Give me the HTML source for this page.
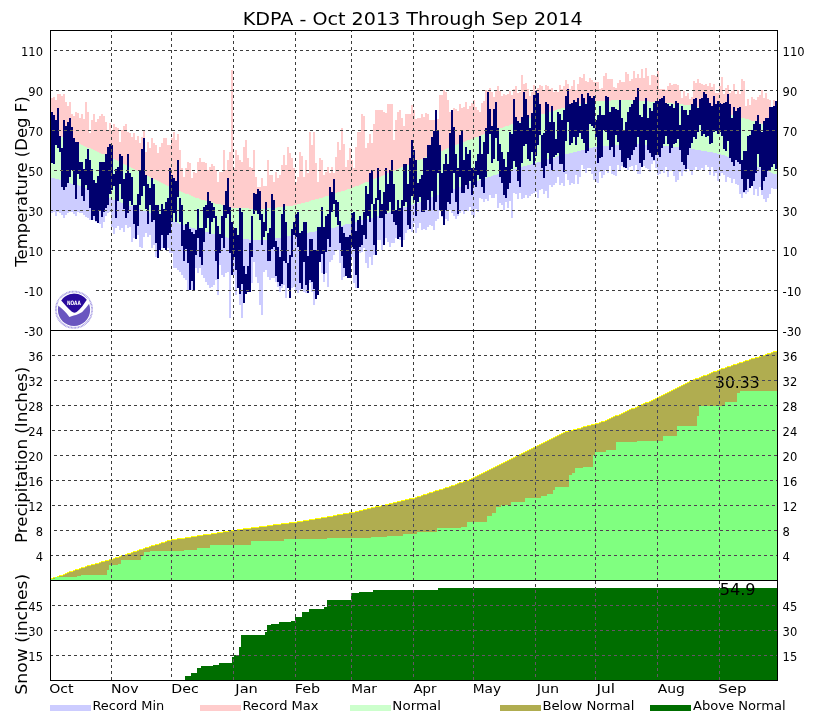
<!DOCTYPE html>
<html><head><meta charset="utf-8"><title>KDPA - Oct 2013 Through Sep 2014</title><style>html,body{margin:0;padding:0;background:#fff;width:827px;height:720px;overflow:hidden}svg{display:block}</style></head><body>
<svg width="827" height="720" viewBox="0 0 827 720" shape-rendering="crispEdges">
<rect width="827" height="720" fill="#fff"/>
<defs><clipPath id="cp"><rect x="51" y="31" width="726" height="649"/></clipPath></defs>
<g clip-path="url(#cp)">
<path fill="#ffcccc" d="M49 105h2V132h-2zM51 98h2V133h-2zM53 97h2V134h-2zM55 100h2V134h-2zM57 94h2V135h-2zM59 94h2V136h-2zM61 96h2V137h-2zM63 94h2V138h-2zM65 102h2V138h-2zM67 106h2V139h-2zM69 102h2V140h-2zM71 114h2V141h-2zM73 116h2V142h-2zM75 112h2V142h-2zM77 113h2V143h-2zM79 118h2V144h-2zM81 114h2V145h-2zM83 119h2V146h-2zM85 102h2V147h-2zM87 112h2V148h-2zM89 133h2V148h-2zM91 120h2V149h-2zM93 114h2V150h-2zM95 122h2V151h-2zM97 119h2V152h-2zM99 116h2V153h-2zM101 114h2V154h-2zM103 116h2V154h-2zM105 122h2V155h-2zM107 130h2V156h-2zM109 123h2V157h-2zM111 130h2V158h-2zM113 124h2V159h-2zM115 127h2V160h-2zM117 128h2V161h-2zM119 142h2V162h-2zM121 130h2V163h-2zM123 126h2V164h-2zM125 124h2V165h-2zM127 132h2V166h-2zM129 133h2V167h-2zM131 137h2V168h-2zM133 133h2V169h-2zM135 140h2V170h-2zM137 136h2V171h-2zM139 143h2V172h-2zM141 137h2V173h-2zM143 130h2V174h-2zM145 152h2V175h-2zM147 142h2V176h-2zM149 148h2V177h-2zM151 138h2V178h-2zM153 143h2V179h-2zM155 145h2V180h-2zM157 153h2V181h-2zM159 147h2V182h-2zM161 143h2V183h-2zM163 138h2V184h-2zM165 138h2V185h-2zM167 145h2V186h-2zM169 145h2V187h-2zM171 138h2V188h-2zM173 132h2V189h-2zM175 140h2V190h-2zM177 134h2V190h-2zM179 150h2V191h-2zM181 168h2V192h-2zM183 177h2V193h-2zM185 168h2V194h-2zM187 162h2V194h-2zM189 163h2V195h-2zM191 178h2V196h-2zM193 172h2V197h-2zM195 173h2V198h-2zM197 162h2V198h-2zM199 158h2V199h-2zM201 162h2V200h-2zM203 162h2V200h-2zM205 163h2V201h-2zM207 170h2V202h-2zM209 167h2V202h-2zM211 164h2V202h-2zM213 166h2V203h-2zM215 170h2V204h-2zM217 182h2V204h-2zM219 172h2V204h-2zM221 172h2V205h-2zM223 150h2V206h-2zM225 170h2V206h-2zM227 160h2V206h-2zM229 152h2V207h-2zM231 70h2V208h-2zM233 168h2V208h-2zM235 150h2V208h-2zM237 155h2V208h-2zM239 160h2V208h-2zM241 162h2V208h-2zM243 147h2V208h-2zM245 140h2V208h-2zM247 158h2V208h-2zM249 167h2V209h-2zM251 168h2V209h-2zM253 150h2V209h-2zM255 177h2V209h-2zM257 187h2V209h-2zM259 187h2V209h-2zM261 178h2V209h-2zM263 186h2V209h-2zM265 186h2V209h-2zM267 160h2V208h-2zM269 175h2V208h-2zM271 175h2V208h-2zM273 182h2V208h-2zM275 172h2V208h-2zM277 178h2V207h-2zM279 175h2V207h-2zM281 165h2V207h-2zM283 155h2V206h-2zM285 165h2V206h-2zM287 147h2V206h-2zM289 153h2V206h-2zM291 158h2V206h-2zM293 168h2V205h-2zM295 182h2V205h-2zM297 177h2V204h-2zM299 152h2V204h-2zM301 156h2V203h-2zM303 177h2V203h-2zM305 160h2V202h-2zM307 173h2V202h-2zM309 132h2V201h-2zM311 145h2V200h-2zM313 132h2V200h-2zM315 163h2V199h-2zM317 182h2V199h-2zM319 158h2V198h-2zM321 160h2V198h-2zM323 175h2V197h-2zM325 172h2V196h-2zM327 167h2V196h-2zM329 173h2V195h-2zM331 167h2V194h-2zM333 173h2V194h-2zM335 157h2V193h-2zM337 142h2V192h-2zM339 150h2V192h-2zM341 128h2V191h-2zM343 144h2V191h-2zM345 167h2V190h-2zM347 160h2V189h-2zM349 148h2V189h-2zM351 160h2V188h-2zM353 168h2V187h-2zM355 147h2V186h-2zM357 132h2V186h-2zM359 132h2V185h-2zM361 114h2V184h-2zM363 116h2V183h-2zM365 148h2V182h-2zM367 143h2V182h-2zM369 134h2V181h-2zM371 143h2V180h-2zM373 124h2V179h-2zM375 110h2V178h-2zM377 110h2V178h-2zM379 110h2V177h-2zM381 110h2V176h-2zM383 112h2V175h-2zM385 113h2V174h-2zM387 104h2V173h-2zM389 104h2V172h-2zM391 104h2V172h-2zM393 140h2V171h-2zM395 120h2V170h-2zM397 112h2V169h-2zM399 110h2V168h-2zM401 118h2V167h-2zM403 126h2V166h-2zM405 114h2V166h-2zM407 114h2V165h-2zM409 114h2V164h-2zM411 105h2V163h-2zM413 110h2V162h-2zM415 119h2V161h-2zM417 118h2V160h-2zM419 118h2V160h-2zM421 114h2V159h-2zM423 117h2V158h-2zM425 113h2V157h-2zM427 114h2V156h-2zM429 120h2V156h-2zM431 120h2V155h-2zM433 120h2V154h-2zM435 116h2V153h-2zM437 119h2V152h-2zM439 95h2V152h-2zM441 95h2V151h-2zM443 90h2V150h-2zM445 92h2V149h-2zM447 100h2V148h-2zM449 112h2V148h-2zM451 114h2V147h-2zM453 108h2V146h-2zM455 109h2V145h-2zM457 111h2V144h-2zM459 104h2V144h-2zM461 108h2V143h-2zM463 107h2V142h-2zM465 102h2V141h-2zM467 109h2V140h-2zM469 106h2V140h-2zM471 103h2V139h-2zM473 100h2V138h-2zM475 107h2V137h-2zM477 110h2V137h-2zM479 112h2V136h-2zM481 103h2V135h-2zM483 101h2V134h-2zM485 90h2V134h-2zM487 91h2V133h-2zM489 88h2V132h-2zM491 92h2V131h-2zM493 97h2V131h-2zM495 90h2V130h-2zM497 86h2V129h-2zM499 91h2V128h-2zM501 96h2V128h-2zM503 94h2V127h-2zM505 95h2V126h-2zM507 94h2V126h-2zM509 91h2V125h-2zM511 95h2V124h-2zM513 89h2V124h-2zM515 86h2V123h-2zM517 93h2V122h-2zM519 92h2V122h-2zM521 75h2V121h-2zM523 84h2V120h-2zM525 83h2V119h-2zM527 89h2V119h-2zM529 96h2V118h-2zM531 92h2V117h-2zM533 85h2V117h-2zM535 90h2V116h-2zM537 88h2V115h-2zM539 85h2V115h-2zM541 86h2V114h-2zM543 91h2V114h-2zM545 85h2V113h-2zM547 86h2V112h-2zM549 89h2V112h-2zM551 88h2V111h-2zM553 92h2V111h-2zM555 91h2V110h-2zM557 92h2V109h-2zM559 85h2V109h-2zM561 89h2V108h-2zM563 86h2V108h-2zM565 80h2V107h-2zM567 84h2V107h-2zM569 89h2V106h-2zM571 86h2V106h-2zM573 80h2V105h-2zM575 90h2V105h-2zM577 84h2V105h-2zM579 77h2V104h-2zM581 78h2V104h-2zM583 74h2V103h-2zM585 81h2V103h-2zM587 82h2V103h-2zM589 78h2V102h-2zM591 80h2V102h-2zM593 82h2V101h-2zM595 82h2V101h-2zM597 82h2V101h-2zM599 89h2V101h-2zM601 88h2V101h-2zM603 76h2V101h-2zM605 73h2V101h-2zM607 79h2V101h-2zM609 79h2V101h-2zM611 79h2V100h-2zM613 87h2V100h-2zM615 88h2V100h-2zM617 83h2V100h-2zM619 80h2V100h-2zM621 82h2V100h-2zM623 82h2V100h-2zM625 72h2V100h-2zM627 74h2V100h-2zM629 81h2V100h-2zM631 79h2V100h-2zM633 71h2V100h-2zM635 78h2V101h-2zM637 74h2V101h-2zM639 78h2V101h-2zM641 69h2V101h-2zM643 78h2V101h-2zM645 68h2V101h-2zM647 76h2V101h-2zM649 85h2V102h-2zM651 75h2V102h-2zM653 75h2V102h-2zM655 76h2V102h-2zM657 71h2V102h-2zM659 89h2V102h-2zM661 89h2V102h-2zM663 89h2V103h-2zM665 90h2V103h-2zM667 86h2V103h-2zM669 83h2V103h-2zM671 85h2V103h-2zM673 84h2V104h-2zM675 84h2V104h-2zM677 85h2V104h-2zM679 90h2V104h-2zM681 98h2V104h-2zM683 91h2V105h-2zM685 96h2V105h-2zM687 93h2V105h-2zM689 99h2V105h-2zM691 97h2V106h-2zM693 81h2V106h-2zM695 83h2V107h-2zM697 79h2V107h-2zM699 83h2V108h-2zM701 84h2V108h-2zM703 85h2V108h-2zM705 84h2V109h-2zM707 86h2V109h-2zM709 83h2V110h-2zM711 87h2V110h-2zM713 84h2V111h-2zM715 93h2V111h-2zM717 93h2V112h-2zM719 86h2V112h-2zM721 77h2V113h-2zM723 94h2V113h-2zM725 88h2V114h-2zM727 85h2V114h-2zM729 93h2V115h-2zM731 91h2V115h-2zM733 84h2V116h-2zM735 94h2V116h-2zM737 90h2V117h-2zM739 94h2V117h-2zM741 79h2V118h-2zM743 81h2V118h-2zM745 106h2V119h-2zM747 99h2V119h-2zM749 105h2V120h-2zM751 97h2V121h-2zM753 99h2V121h-2zM755 100h2V122h-2zM757 97h2V123h-2zM759 95h2V123h-2zM761 90h2V124h-2zM763 98h2V125h-2zM765 93h2V125h-2zM767 99h2V126h-2zM769 100h2V127h-2zM771 107h2V127h-2zM773 100h2V128h-2zM775 107h2V129h-2z"/>
<path fill="#ccffcc" d="M49 132h2V177h-2zM51 133h2V178h-2zM53 134h2V178h-2zM55 134h2V179h-2zM57 135h2V179h-2zM59 136h2V180h-2zM61 137h2V181h-2zM63 138h2V181h-2zM65 138h2V182h-2zM67 139h2V182h-2zM69 140h2V183h-2zM71 141h2V184h-2zM73 142h2V184h-2zM75 142h2V185h-2zM77 143h2V185h-2zM79 144h2V186h-2zM81 145h2V187h-2zM83 146h2V188h-2zM85 147h2V188h-2zM87 148h2V189h-2zM89 148h2V190h-2zM91 149h2V191h-2zM93 150h2V192h-2zM95 151h2V192h-2zM97 152h2V193h-2zM99 153h2V194h-2zM101 154h2V195h-2zM103 154h2V196h-2zM105 155h2V197h-2zM107 156h2V197h-2zM109 157h2V198h-2zM111 158h2V199h-2zM113 159h2V200h-2zM115 160h2V200h-2zM117 161h2V201h-2zM119 162h2V202h-2zM121 163h2V203h-2zM123 164h2V203h-2zM125 165h2V204h-2zM127 166h2V205h-2zM129 167h2V206h-2zM131 168h2V206h-2zM133 169h2V207h-2zM135 170h2V208h-2zM137 171h2V209h-2zM139 172h2V209h-2zM141 173h2V210h-2zM143 174h2V211h-2zM145 175h2V211h-2zM147 176h2V212h-2zM149 177h2V213h-2zM151 178h2V214h-2zM153 179h2V214h-2zM155 180h2V215h-2zM157 181h2V216h-2zM159 182h2V217h-2zM161 183h2V217h-2zM163 184h2V218h-2zM165 185h2V219h-2zM167 186h2V220h-2zM169 187h2V220h-2zM171 188h2V221h-2zM173 189h2V222h-2zM175 190h2V222h-2zM177 190h2V223h-2zM179 191h2V224h-2zM181 192h2V224h-2zM183 193h2V225h-2zM185 194h2V226h-2zM187 194h2V226h-2zM189 195h2V227h-2zM191 196h2V228h-2zM193 197h2V228h-2zM195 198h2V229h-2zM197 198h2V230h-2zM199 199h2V230h-2zM201 200h2V231h-2zM203 200h2V232h-2zM205 201h2V232h-2zM207 202h2V232h-2zM209 202h2V233h-2zM211 202h2V234h-2zM213 203h2V234h-2zM215 204h2V234h-2zM217 204h2V235h-2zM219 204h2V236h-2zM221 205h2V236h-2zM223 206h2V236h-2zM225 206h2V237h-2zM227 206h2V238h-2zM229 207h2V238h-2zM231 208h2V238h-2zM233 208h2V239h-2zM235 208h2V239h-2zM237 208h2V239h-2zM239 208h2V239h-2zM241 208h2V239h-2zM243 208h2V239h-2zM245 208h2V239h-2zM247 208h2V239h-2zM249 209h2V240h-2zM251 209h2V240h-2zM253 209h2V240h-2zM255 209h2V240h-2zM257 209h2V240h-2zM259 209h2V240h-2zM261 209h2V240h-2zM263 209h2V240h-2zM265 209h2V240h-2zM267 208h2V239h-2zM269 208h2V239h-2zM271 208h2V239h-2zM273 208h2V238h-2zM275 208h2V238h-2zM277 207h2V238h-2zM279 207h2V238h-2zM281 207h2V237h-2zM283 206h2V237h-2zM285 206h2V237h-2zM287 206h2V236h-2zM289 206h2V236h-2zM291 206h2V236h-2zM293 205h2V235h-2zM295 205h2V235h-2zM297 204h2V235h-2zM299 204h2V234h-2zM301 203h2V234h-2zM303 203h2V234h-2zM305 202h2V233h-2zM307 202h2V233h-2zM309 201h2V232h-2zM311 200h2V232h-2zM313 200h2V232h-2zM315 199h2V231h-2zM317 199h2V231h-2zM319 198h2V231h-2zM321 198h2V230h-2zM323 197h2V230h-2zM325 196h2V230h-2zM327 196h2V229h-2zM329 195h2V228h-2zM331 194h2V228h-2zM333 194h2V228h-2zM335 193h2V227h-2zM337 192h2V226h-2zM339 192h2V226h-2zM341 191h2V226h-2zM343 191h2V225h-2zM345 190h2V224h-2zM347 189h2V224h-2zM349 189h2V224h-2zM351 188h2V223h-2zM353 187h2V222h-2zM355 186h2V222h-2zM357 186h2V221h-2zM359 185h2V221h-2zM361 184h2V220h-2zM363 183h2V220h-2zM365 182h2V219h-2zM367 182h2V219h-2zM369 181h2V218h-2zM371 180h2V218h-2zM373 179h2V217h-2zM375 178h2V217h-2zM377 178h2V216h-2zM379 177h2V216h-2zM381 176h2V215h-2zM383 175h2V214h-2zM385 174h2V214h-2zM387 173h2V213h-2zM389 172h2V212h-2zM391 172h2V212h-2zM393 171h2V211h-2zM395 170h2V210h-2zM397 169h2V210h-2zM399 168h2V209h-2zM401 167h2V208h-2zM403 166h2V207h-2zM405 166h2V207h-2zM407 165h2V206h-2zM409 164h2V205h-2zM411 163h2V205h-2zM413 162h2V204h-2zM415 161h2V203h-2zM417 160h2V203h-2zM419 160h2V202h-2zM421 159h2V201h-2zM423 158h2V200h-2zM425 157h2V200h-2zM427 156h2V199h-2zM429 156h2V198h-2zM431 155h2V197h-2zM433 154h2V197h-2zM435 153h2V196h-2zM437 152h2V195h-2zM439 152h2V194h-2zM441 151h2V194h-2zM443 150h2V193h-2zM445 149h2V192h-2zM447 148h2V192h-2zM449 148h2V191h-2zM451 147h2V190h-2zM453 146h2V189h-2zM455 145h2V189h-2zM457 144h2V188h-2zM459 144h2V187h-2zM461 143h2V186h-2zM463 142h2V186h-2zM465 141h2V185h-2zM467 140h2V184h-2zM469 140h2V183h-2zM471 139h2V183h-2zM473 138h2V182h-2zM475 137h2V181h-2zM477 137h2V181h-2zM479 136h2V180h-2zM481 135h2V179h-2zM483 134h2V179h-2zM485 134h2V178h-2zM487 133h2V177h-2zM489 132h2V177h-2zM491 131h2V176h-2zM493 131h2V175h-2zM495 130h2V175h-2zM497 129h2V174h-2zM499 128h2V173h-2zM501 128h2V173h-2zM503 127h2V172h-2zM505 126h2V171h-2zM507 126h2V171h-2zM509 125h2V170h-2zM511 124h2V170h-2zM513 124h2V169h-2zM515 123h2V169h-2zM517 122h2V168h-2zM519 122h2V168h-2zM521 121h2V167h-2zM523 120h2V166h-2zM525 119h2V166h-2zM527 119h2V165h-2zM529 118h2V165h-2zM531 117h2V164h-2zM533 117h2V164h-2zM535 116h2V163h-2zM537 115h2V162h-2zM539 115h2V162h-2zM541 114h2V161h-2zM543 114h2V161h-2zM545 113h2V160h-2zM547 112h2V159h-2zM549 112h2V159h-2zM551 111h2V158h-2zM553 111h2V158h-2zM555 110h2V157h-2zM557 109h2V156h-2zM559 109h2V156h-2zM561 108h2V155h-2zM563 108h2V155h-2zM565 107h2V154h-2zM567 107h2V154h-2zM569 106h2V153h-2zM571 106h2V153h-2zM573 105h2V152h-2zM575 105h2V152h-2zM577 105h2V151h-2zM579 104h2V151h-2zM581 104h2V150h-2zM583 103h2V150h-2zM585 103h2V149h-2zM587 103h2V149h-2zM589 102h2V148h-2zM591 102h2V148h-2zM593 101h2V147h-2zM595 101h2V147h-2zM597 101h2V147h-2zM599 101h2V147h-2zM601 101h2V146h-2zM603 101h2V146h-2zM605 101h2V146h-2zM607 101h2V146h-2zM609 101h2V146h-2zM611 100h2V145h-2zM613 100h2V145h-2zM615 100h2V145h-2zM617 100h2V145h-2zM619 100h2V145h-2zM621 100h2V144h-2zM623 100h2V144h-2zM625 100h2V144h-2zM627 100h2V144h-2zM629 100h2V144h-2zM631 100h2V144h-2zM633 100h2V144h-2zM635 101h2V144h-2zM637 101h2V144h-2zM639 101h2V144h-2zM641 101h2V144h-2zM643 101h2V145h-2zM645 101h2V145h-2zM647 101h2V145h-2zM649 102h2V145h-2zM651 102h2V145h-2zM653 102h2V145h-2zM655 102h2V145h-2zM657 102h2V145h-2zM659 102h2V145h-2zM661 102h2V145h-2zM663 103h2V146h-2zM665 103h2V146h-2zM667 103h2V146h-2zM669 103h2V146h-2zM671 103h2V146h-2zM673 104h2V147h-2zM675 104h2V147h-2zM677 104h2V147h-2zM679 104h2V147h-2zM681 104h2V147h-2zM683 105h2V148h-2zM685 105h2V148h-2zM687 105h2V148h-2zM689 105h2V148h-2zM691 106h2V149h-2zM693 106h2V149h-2zM695 107h2V150h-2zM697 107h2V150h-2zM699 108h2V150h-2zM701 108h2V151h-2zM703 108h2V151h-2zM705 109h2V151h-2zM707 109h2V152h-2zM709 110h2V152h-2zM711 110h2V152h-2zM713 111h2V153h-2zM715 111h2V153h-2zM717 112h2V154h-2zM719 112h2V154h-2zM721 113h2V155h-2zM723 113h2V155h-2zM725 114h2V156h-2zM727 114h2V157h-2zM729 115h2V157h-2zM731 115h2V158h-2zM733 116h2V159h-2zM735 116h2V159h-2zM737 117h2V160h-2zM739 117h2V161h-2zM741 118h2V161h-2zM743 118h2V162h-2zM745 119h2V163h-2zM747 119h2V163h-2zM749 120h2V164h-2zM751 121h2V165h-2zM753 121h2V166h-2zM755 122h2V166h-2zM757 123h2V167h-2zM759 123h2V168h-2zM761 124h2V169h-2zM763 125h2V170h-2zM765 125h2V170h-2zM767 126h2V171h-2zM769 127h2V172h-2zM771 127h2V173h-2zM773 128h2V174h-2zM775 129h2V174h-2z"/>
<path fill="#ccccff" d="M49 177h2V217h-2zM51 178h2V213h-2zM53 178h2V212h-2zM55 179h2V216h-2zM57 179h2V212h-2zM59 180h2V213h-2zM61 181h2V215h-2zM63 181h2V218h-2zM65 182h2V215h-2zM67 182h2V213h-2zM69 183h2V212h-2zM71 184h2V212h-2zM73 184h2V214h-2zM75 185h2V216h-2zM77 185h2V212h-2zM79 186h2V213h-2zM81 187h2V213h-2zM83 188h2V215h-2zM85 188h2V217h-2zM87 189h2V218h-2zM89 190h2V220h-2zM91 191h2V218h-2zM93 192h2V220h-2zM95 192h2V222h-2zM97 193h2V218h-2zM99 194h2V224h-2zM101 195h2V228h-2zM103 196h2V222h-2zM105 197h2V216h-2zM107 197h2V213h-2zM109 198h2V212h-2zM111 199h2V227h-2zM113 200h2V234h-2zM115 200h2V228h-2zM117 201h2V226h-2zM119 202h2V230h-2zM121 203h2V228h-2zM123 203h2V232h-2zM125 204h2V225h-2zM127 205h2V228h-2zM129 206h2V227h-2zM131 206h2V242h-2zM133 207h2V238h-2zM135 208h2V230h-2zM137 209h2V235h-2zM139 209h2V247h-2zM141 210h2V248h-2zM143 211h2V237h-2zM145 211h2V233h-2zM147 212h2V237h-2zM149 213h2V235h-2zM151 214h2V248h-2zM153 214h2V245h-2zM155 215h2V257h-2zM157 216h2V243h-2zM159 217h2V243h-2zM161 217h2V248h-2zM163 218h2V247h-2zM165 219h2V250h-2zM167 220h2V248h-2zM169 220h2V253h-2zM171 221h2V253h-2zM173 222h2V268h-2zM175 222h2V268h-2zM177 223h2V270h-2zM179 224h2V272h-2zM181 224h2V275h-2zM183 225h2V278h-2zM185 226h2V280h-2zM187 226h2V290h-2zM189 227h2V285h-2zM191 228h2V290h-2zM193 228h2V280h-2zM195 229h2V268h-2zM197 230h2V273h-2zM199 230h2V268h-2zM201 231h2V275h-2zM203 232h2V278h-2zM205 232h2V282h-2zM207 232h2V285h-2zM209 233h2V288h-2zM211 234h2V287h-2zM213 234h2V285h-2zM215 234h2V280h-2zM217 235h2V295h-2zM219 236h2V265h-2zM221 236h2V275h-2zM223 236h2V277h-2zM225 237h2V273h-2zM227 238h2V272h-2zM229 238h2V318h-2zM231 238h2V272h-2zM233 239h2V275h-2zM235 239h2V295h-2zM237 239h2V288h-2zM239 239h2V305h-2zM241 239h2V318h-2zM243 239h2V300h-2zM245 239h2V293h-2zM247 239h2V292h-2zM249 240h2V285h-2zM251 240h2V283h-2zM253 240h2V262h-2zM255 240h2V277h-2zM257 240h2V283h-2zM259 240h2V305h-2zM261 240h2V315h-2zM263 240h2V272h-2zM265 240h2V270h-2zM267 239h2V277h-2zM269 239h2V280h-2zM271 239h2V278h-2zM273 238h2V278h-2zM275 238h2V282h-2zM277 238h2V287h-2zM279 238h2V292h-2zM281 237h2V288h-2zM283 237h2V285h-2zM285 237h2V298h-2zM287 236h2V288h-2zM289 236h2V283h-2zM291 236h2V288h-2zM293 235h2V287h-2zM295 235h2V290h-2zM297 235h2V293h-2zM299 234h2V290h-2zM301 234h2V287h-2zM303 234h2V292h-2zM305 233h2V293h-2zM307 233h2V288h-2zM309 232h2V283h-2zM311 232h2V292h-2zM313 232h2V305h-2zM315 231h2V297h-2zM317 231h2V265h-2zM319 231h2V262h-2zM321 230h2V273h-2zM323 230h2V282h-2zM325 230h2V273h-2zM327 229h2V287h-2zM329 228h2V262h-2zM331 228h2V260h-2zM333 228h2V255h-2zM335 227h2V250h-2zM337 226h2V250h-2zM339 226h2V263h-2zM341 226h2V280h-2zM343 225h2V277h-2zM345 224h2V275h-2zM347 224h2V278h-2zM349 224h2V257h-2zM351 223h2V257h-2zM353 222h2V283h-2zM355 222h2V288h-2zM357 221h2V258h-2zM359 221h2V253h-2zM361 220h2V252h-2zM363 220h2V248h-2zM365 219h2V263h-2zM367 219h2V268h-2zM369 218h2V257h-2zM371 218h2V265h-2zM373 217h2V255h-2zM375 217h2V248h-2zM377 216h2V240h-2zM379 216h2V240h-2zM381 215h2V250h-2zM383 214h2V238h-2zM385 214h2V238h-2zM387 213h2V242h-2zM389 212h2V247h-2zM391 212h2V243h-2zM393 211h2V243h-2zM395 210h2V238h-2zM397 210h2V237h-2zM399 209h2V240h-2zM401 208h2V247h-2zM403 207h2V240h-2zM405 207h2V233h-2zM407 206h2V230h-2zM409 205h2V228h-2zM411 205h2V232h-2zM413 204h2V223h-2zM415 203h2V233h-2zM417 203h2V228h-2zM419 202h2V223h-2zM421 201h2V230h-2zM423 200h2V229h-2zM425 200h2V230h-2zM427 199h2V227h-2zM429 198h2V225h-2zM431 197h2V226h-2zM433 197h2V230h-2zM435 196h2V221h-2zM437 195h2V219h-2zM439 194h2V211h-2zM441 194h2V217h-2zM443 193h2V221h-2zM445 192h2V219h-2zM447 192h2V221h-2zM449 191h2V210h-2zM451 190h2V213h-2zM453 189h2V216h-2zM455 189h2V219h-2zM457 188h2V216h-2zM459 187h2V213h-2zM461 186h2V211h-2zM463 186h2V214h-2zM465 185h2V210h-2zM467 184h2V211h-2zM469 183h2V207h-2zM471 183h2V215h-2zM473 182h2V217h-2zM475 181h2V209h-2zM477 181h2V212h-2zM479 180h2V198h-2zM481 179h2V199h-2zM483 179h2V202h-2zM485 178h2V199h-2zM487 177h2V201h-2zM489 177h2V195h-2zM491 176h2V198h-2zM493 175h2V198h-2zM495 175h2V194h-2zM497 174h2V208h-2zM499 173h2V203h-2zM501 173h2V205h-2zM503 172h2V210h-2zM505 171h2V202h-2zM507 171h2V208h-2zM509 170h2V201h-2zM511 170h2V218h-2zM513 169h2V193h-2zM515 169h2V194h-2zM517 168h2V199h-2zM519 168h2V193h-2zM521 167h2V199h-2zM523 166h2V198h-2zM525 166h2V195h-2zM527 165h2V198h-2zM529 165h2V196h-2zM531 164h2V194h-2zM533 164h2V193h-2zM535 163h2V192h-2zM537 162h2V198h-2zM539 162h2V190h-2zM541 161h2V189h-2zM543 161h2V194h-2zM545 160h2V191h-2zM547 159h2V198h-2zM549 159h2V185h-2zM551 158h2V187h-2zM553 158h2V185h-2zM555 157h2V183h-2zM557 156h2V177h-2zM559 156h2V185h-2zM561 155h2V183h-2zM563 155h2V186h-2zM565 154h2V174h-2zM567 154h2V180h-2zM569 153h2V185h-2zM571 153h2V183h-2zM573 152h2V184h-2zM575 152h2V175h-2zM577 151h2V184h-2zM579 151h2V177h-2zM581 150h2V165h-2zM583 150h2V169h-2zM585 149h2V173h-2zM587 149h2V168h-2zM589 148h2V168h-2zM591 148h2V174h-2zM593 147h2V180h-2zM595 147h2V182h-2zM597 147h2V183h-2zM599 147h2V172h-2zM601 146h2V178h-2zM603 146h2V175h-2zM605 146h2V170h-2zM607 146h2V173h-2zM609 146h2V166h-2zM611 145h2V174h-2zM613 145h2V175h-2zM615 145h2V176h-2zM617 145h2V165h-2zM619 145h2V170h-2zM621 144h2V166h-2zM623 144h2V168h-2zM625 144h2V167h-2zM627 144h2V170h-2zM629 144h2V167h-2zM631 144h2V166h-2zM633 144h2V171h-2zM635 144h2V165h-2zM637 144h2V174h-2zM639 144h2V174h-2zM641 144h2V166h-2zM643 145h2V166h-2zM645 145h2V168h-2zM647 145h2V169h-2zM649 145h2V172h-2zM651 145h2V164h-2zM653 145h2V161h-2zM655 145h2V168h-2zM657 145h2V175h-2zM659 145h2V174h-2zM661 145h2V171h-2zM663 146h2V173h-2zM665 146h2V167h-2zM667 146h2V177h-2zM669 146h2V171h-2zM671 146h2V171h-2zM673 147h2V176h-2zM675 147h2V182h-2zM677 147h2V180h-2zM679 147h2V172h-2zM681 147h2V176h-2zM683 148h2V171h-2zM685 148h2V172h-2zM687 148h2V169h-2zM689 148h2V171h-2zM691 149h2V175h-2zM693 149h2V170h-2zM695 150h2V167h-2zM697 150h2V171h-2zM699 150h2V170h-2zM701 151h2V168h-2zM703 151h2V170h-2zM705 151h2V165h-2zM707 152h2V167h-2zM709 152h2V175h-2zM711 152h2V167h-2zM713 153h2V176h-2zM715 153h2V173h-2zM717 154h2V181h-2zM719 154h2V176h-2zM721 155h2V173h-2zM723 155h2V175h-2zM725 156h2V182h-2zM727 157h2V177h-2zM729 157h2V178h-2zM731 158h2V183h-2zM733 159h2V179h-2zM735 159h2V184h-2zM737 160h2V185h-2zM739 161h2V194h-2zM741 161h2V198h-2zM743 162h2V193h-2zM745 163h2V194h-2zM747 163h2V192h-2zM749 164h2V186h-2zM751 165h2V186h-2zM753 166h2V195h-2zM755 166h2V189h-2zM757 167h2V196h-2zM759 168h2V187h-2zM761 169h2V195h-2zM763 170h2V199h-2zM765 170h2V202h-2zM767 171h2V198h-2zM769 172h2V194h-2zM771 173h2V188h-2zM773 174h2V189h-2zM775 174h2V189h-2z"/>
<path fill="#00006e" d="M49 112h2V163h-2zM51 112h2V163h-2zM53 115h2V164h-2zM55 120h2V145h-2zM57 108h2V148h-2zM59 136h2V152h-2zM61 148h2V187h-2zM63 120h2V190h-2zM65 126h2V187h-2zM67 122h2V183h-2zM69 118h2V177h-2zM71 127h2V170h-2zM73 138h2V185h-2zM75 142h2V199h-2zM77 142h2V174h-2zM79 162h2V179h-2zM81 162h2V196h-2zM83 169h2V201h-2zM85 159h2V185h-2zM87 149h2V190h-2zM89 160h2V208h-2zM91 169h2V220h-2zM93 180h2V216h-2zM95 183h2V221h-2zM97 176h2V223h-2zM99 162h2V210h-2zM101 162h2V217h-2zM103 162h2V212h-2zM105 154h2V208h-2zM107 147h2V205h-2zM109 144h2V194h-2zM111 145h2V190h-2zM113 174h2V186h-2zM115 169h2V218h-2zM117 167h2V201h-2zM119 154h2V184h-2zM121 156h2V199h-2zM123 179h2V209h-2zM125 173h2V218h-2zM127 154h2V213h-2zM129 173h2V201h-2zM131 177h2V205h-2zM133 205h2V224h-2zM135 205h2V239h-2zM137 194h2V226h-2zM139 171h2V205h-2zM141 149h2V196h-2zM143 138h2V186h-2zM145 175h2V209h-2zM147 184h2V224h-2zM149 188h2V205h-2zM151 178h2V222h-2zM153 184h2V220h-2zM155 205h2V243h-2zM157 205h2V258h-2zM159 214h2V250h-2zM161 204h2V235h-2zM163 209h2V248h-2zM165 202h2V250h-2zM167 198h2V235h-2zM169 168h2V233h-2zM171 175h2V222h-2zM173 178h2V213h-2zM175 181h2V222h-2zM177 160h2V197h-2zM179 198h2V222h-2zM181 205h2V246h-2zM183 230h2V261h-2zM185 224h2V249h-2zM187 222h2V263h-2zM189 229h2V290h-2zM191 232h2V281h-2zM193 234h2V290h-2zM195 230h2V255h-2zM197 209h2V238h-2zM199 228h2V257h-2zM201 228h2V265h-2zM203 207h2V242h-2zM205 205h2V228h-2zM207 192h2V218h-2zM209 201h2V234h-2zM211 203h2V222h-2zM213 207h2V218h-2zM215 216h2V261h-2zM217 226h2V279h-2zM219 234h2V253h-2zM221 216h2V238h-2zM223 205h2V248h-2zM225 191h2V218h-2zM227 178h2V214h-2zM229 207h2V253h-2zM231 222h2V275h-2zM233 228h2V257h-2zM235 228h2V270h-2zM237 235h2V288h-2zM239 208h2V294h-2zM241 212h2V284h-2zM243 266h2V303h-2zM245 274h2V294h-2zM247 266h2V292h-2zM249 243h2V292h-2zM251 216h2V257h-2zM253 193h2V214h-2zM255 194h2V210h-2zM257 189h2V214h-2zM259 191h2V220h-2zM261 214h2V245h-2zM263 222h2V237h-2zM265 202h2V231h-2zM267 233h2V261h-2zM269 228h2V261h-2zM271 194h2V249h-2zM273 200h2V247h-2zM275 241h2V276h-2zM277 247h2V282h-2zM279 257h2V286h-2zM281 214h2V284h-2zM283 204h2V261h-2zM285 222h2V263h-2zM287 263h2V288h-2zM289 255h2V298h-2zM291 229h2V257h-2zM293 222h2V235h-2zM295 214h2V237h-2zM297 212h2V247h-2zM299 233h2V283h-2zM301 231h2V289h-2zM303 222h2V262h-2zM305 222h2V285h-2zM307 256h2V293h-2zM309 239h2V280h-2zM311 239h2V282h-2zM313 250h2V289h-2zM315 250h2V299h-2zM317 227h2V295h-2zM319 227h2V262h-2zM321 207h2V254h-2zM323 227h2V274h-2zM325 216h2V252h-2zM327 214h2V239h-2zM329 187h2V247h-2zM331 192h2V212h-2zM333 179h2V204h-2zM335 200h2V217h-2zM337 202h2V225h-2zM339 221h2V243h-2zM341 227h2V256h-2zM343 233h2V268h-2zM345 237h2V276h-2zM347 237h2V278h-2zM349 235h2V278h-2zM351 213h2V247h-2zM353 212h2V249h-2zM355 231h2V275h-2zM357 220h2V288h-2zM359 216h2V247h-2zM361 225h2V245h-2zM363 212h2V235h-2zM365 186h2V239h-2zM367 194h2V216h-2zM369 173h2V222h-2zM371 170h2V204h-2zM373 204h2V245h-2zM375 198h2V255h-2zM377 168h2V200h-2zM379 190h2V218h-2zM381 204h2V218h-2zM383 192h2V245h-2zM385 168h2V214h-2zM387 184h2V210h-2zM389 170h2V202h-2zM391 160h2V214h-2zM393 184h2V222h-2zM395 210h2V225h-2zM397 200h2V239h-2zM399 208h2V237h-2zM401 200h2V247h-2zM403 164h2V206h-2zM405 164h2V202h-2zM407 184h2V225h-2zM409 158h2V229h-2zM411 140h2V196h-2zM413 150h2V200h-2zM415 160h2V216h-2zM417 183h2V202h-2zM419 179h2V197h-2zM421 175h2V212h-2zM423 158h2V212h-2zM425 158h2V210h-2zM427 145h2V200h-2zM429 145h2V210h-2zM431 137h2V191h-2zM433 131h2V210h-2zM435 110h2V202h-2zM437 131h2V173h-2zM439 145h2V210h-2zM441 173h2V216h-2zM443 164h2V225h-2zM445 154h2V210h-2zM447 164h2V202h-2zM449 133h2V204h-2zM451 110h2V193h-2zM453 127h2V173h-2zM455 154h2V202h-2zM457 168h2V214h-2zM459 135h2V177h-2zM461 131h2V193h-2zM463 160h2V193h-2zM465 147h2V185h-2zM467 154h2V189h-2zM469 150h2V181h-2zM471 168h2V195h-2zM473 168h2V185h-2zM475 161h2V187h-2zM477 154h2V175h-2zM479 136h2V179h-2zM481 154h2V187h-2zM483 142h2V193h-2zM485 128h2V177h-2zM487 92h2V154h-2zM489 109h2V134h-2zM491 126h2V163h-2zM493 109h2V159h-2zM495 102h2V138h-2zM497 128h2V161h-2zM499 144h2V177h-2zM501 152h2V183h-2zM503 159h2V195h-2zM505 167h2V198h-2zM507 152h2V189h-2zM509 132h2V183h-2zM511 134h2V169h-2zM513 99h2V161h-2zM515 117h2V167h-2zM517 121h2V181h-2zM519 123h2V187h-2zM521 117h2V163h-2zM523 92h2V146h-2zM525 99h2V144h-2zM527 115h2V159h-2zM529 128h2V161h-2zM531 113h2V152h-2zM533 95h2V165h-2zM535 91h2V156h-2zM537 93h2V145h-2zM539 104h2V135h-2zM541 135h2V168h-2zM543 133h2V178h-2zM545 102h2V166h-2zM547 104h2V153h-2zM549 122h2V164h-2zM551 106h2V170h-2zM553 122h2V157h-2zM555 139h2V155h-2zM557 112h2V153h-2zM559 114h2V164h-2zM561 120h2V164h-2zM563 110h2V172h-2zM565 96h2V141h-2zM567 89h2V122h-2zM569 104h2V145h-2zM571 103h2V143h-2zM573 100h2V137h-2zM575 102h2V145h-2zM577 98h2V137h-2zM579 106h2V133h-2zM581 94h2V139h-2zM583 98h2V143h-2zM585 104h2V153h-2zM587 93h2V151h-2zM589 96h2V124h-2zM591 98h2V126h-2zM593 96h2V128h-2zM595 120h2V137h-2zM597 115h2V163h-2zM599 106h2V158h-2zM601 115h2V157h-2zM603 115h2V130h-2zM605 96h2V132h-2zM607 97h2V140h-2zM609 112h2V150h-2zM611 107h2V147h-2zM613 107h2V157h-2zM615 109h2V135h-2zM617 110h2V142h-2zM619 100h2V150h-2zM621 118h2V162h-2zM623 130h2V167h-2zM625 122h2V168h-2zM627 112h2V158h-2zM629 107h2V160h-2zM631 104h2V155h-2zM633 100h2V150h-2zM635 97h2V147h-2zM637 88h2V137h-2zM639 115h2V163h-2zM641 117h2V167h-2zM643 104h2V160h-2zM645 98h2V140h-2zM647 118h2V150h-2zM649 108h2V153h-2zM651 111h2V157h-2zM653 103h2V160h-2zM655 101h2V155h-2zM657 101h2V155h-2zM659 99h2V157h-2zM661 98h2V148h-2zM663 96h2V144h-2zM665 103h2V136h-2zM667 104h2V144h-2zM669 106h2V153h-2zM671 104h2V148h-2zM673 108h2V144h-2zM675 101h2V143h-2zM677 103h2V139h-2zM679 125h2V150h-2zM681 106h2V162h-2zM683 110h2V165h-2zM685 110h2V169h-2zM687 115h2V155h-2zM689 110h2V148h-2zM691 104h2V143h-2zM693 99h2V137h-2zM695 98h2V139h-2zM697 108h2V132h-2zM699 99h2V125h-2zM701 98h2V136h-2zM703 92h2V134h-2zM705 94h2V137h-2zM707 98h2V136h-2zM709 103h2V144h-2zM711 106h2V143h-2zM713 96h2V132h-2zM715 104h2V131h-2zM717 101h2V134h-2zM719 103h2V132h-2zM721 104h2V136h-2zM723 103h2V149h-2zM725 102h2V151h-2zM727 94h2V141h-2zM729 104h2V158h-2zM731 118h2V162h-2zM733 107h2V166h-2zM735 111h2V160h-2zM737 108h2V162h-2zM739 107h2V164h-2zM741 160h2V179h-2zM743 151h2V192h-2zM745 151h2V190h-2zM747 136h2V179h-2zM749 135h2V188h-2zM751 130h2V186h-2zM753 124h2V181h-2zM755 121h2V173h-2zM757 115h2V154h-2zM759 124h2V167h-2zM761 132h2V190h-2zM763 121h2V181h-2zM765 118h2V177h-2zM767 118h2V171h-2zM769 107h2V171h-2zM771 107h2V167h-2zM773 106h2V164h-2zM775 101h2V169h-2zM777 100h2V141h-2zM779 100h2V142h-2z"/>
<path fill="#b0ad50" d="M50 580L49 579L51 579L51 578L53 578L53 577L55 577L55 577L57 577L57 576L59 576L59 575L61 575L61 575L63 575L63 574L65 574L65 573L67 573L67 572L69 572L69 571L71 571L71 571L73 571L73 570L75 570L75 569L77 569L77 569L79 569L79 568L81 568L81 567L83 567L83 567L85 567L85 566L87 566L87 565L89 565L89 565L91 565L91 564L93 564L93 564L95 564L95 563L97 563L97 563L99 563L99 562L101 562L101 561L103 561L103 561L105 561L105 560L107 560L107 560L109 560L109 559L111 559L111 559L113 559L113 558L115 558L115 557L117 557L117 557L119 557L119 556L121 556L121 555L123 555L123 555L125 555L125 554L127 554L127 553L129 553L129 553L131 553L131 552L133 552L133 551L135 551L135 551L137 551L137 550L139 550L139 549L141 549L141 549L143 549L143 548L145 548L145 547L147 547L147 547L149 547L149 546L151 546L151 545L153 545L153 545L155 545L155 544L157 544L157 544L159 544L159 543L161 543L161 542L163 542L163 542L165 542L165 541L167 541L167 540L169 540L169 540L171 540L171 539L173 539L173 539L175 539L175 539L177 539L177 538L179 538L179 538L181 538L181 538L183 538L183 538L185 538L185 537L187 537L187 537L189 537L189 537L191 537L191 536L193 536L193 536L195 536L195 536L197 536L197 535L199 535L199 535L201 535L201 535L203 535L203 534L205 534L205 534L207 534L207 534L209 534L209 534L211 534L211 533L213 533L213 533L215 533L215 533L217 533L217 532L219 532L219 532L221 532L221 532L223 532L223 531L225 531L225 531L227 531L227 531L229 531L229 530L231 530L231 530L233 530L233 530L235 530L235 530L237 530L237 529L239 529L239 529L241 529L241 529L243 529L243 528L245 528L245 528L247 528L247 528L249 528L249 528L251 528L251 527L253 527L253 527L255 527L255 527L257 527L257 527L259 527L259 526L261 526L261 526L263 526L263 526L265 526L265 526L267 526L267 525L269 525L269 525L271 525L271 525L273 525L273 524L275 524L275 524L277 524L277 524L279 524L279 524L281 524L281 523L283 523L283 523L285 523L285 523L287 523L287 523L289 523L289 522L291 522L291 522L293 522L293 522L295 522L295 522L297 522L297 521L299 521L299 521L301 521L301 521L303 521L303 520L305 520L305 520L307 520L307 520L309 520L309 519L311 519L311 519L313 519L313 519L315 519L315 518L317 518L317 518L319 518L319 518L321 518L321 517L323 517L323 517L325 517L325 517L327 517L327 516L329 516L329 516L331 516L331 516L333 516L333 515L335 515L335 515L337 515L337 514L339 514L339 514L341 514L341 514L343 514L343 513L345 513L345 513L347 513L347 513L349 513L349 512L351 512L351 512L353 512L353 512L355 512L355 511L357 511L357 511L359 511L359 510L361 510L361 510L363 510L363 509L365 509L365 509L367 509L367 508L369 508L369 508L371 508L371 507L373 507L373 507L375 507L375 506L377 506L377 506L379 506L379 506L381 506L381 505L383 505L383 505L385 505L385 504L387 504L387 504L389 504L389 503L391 503L391 503L393 503L393 502L395 502L395 502L397 502L397 501L399 501L399 501L401 501L401 500L403 500L403 500L405 500L405 499L407 499L407 499L409 499L409 498L411 498L411 498L413 498L413 498L415 498L415 497L417 497L417 496L419 496L419 496L421 496L421 495L423 495L423 494L425 494L425 494L427 494L427 493L429 493L429 492L431 492L431 492L433 492L433 491L435 491L435 490L437 490L437 490L439 490L439 489L441 489L441 489L443 489L443 488L445 488L445 487L447 487L447 487L449 487L449 486L451 486L451 485L453 485L453 485L455 485L455 484L457 484L457 483L459 483L459 482L461 482L461 482L463 482L463 481L465 481L465 480L467 480L467 480L469 480L469 479L471 479L471 478L473 478L473 477L475 477L475 476L477 476L477 475L479 475L479 474L481 474L481 473L483 473L483 472L485 472L485 471L487 471L487 470L489 470L489 469L491 469L491 468L493 468L493 467L495 467L495 466L497 466L497 465L499 465L499 464L501 464L501 463L503 463L503 462L505 462L505 461L507 461L507 460L509 460L509 459L511 459L511 458L513 458L513 457L515 457L515 456L517 456L517 455L519 455L519 454L521 454L521 453L523 453L523 452L525 452L525 451L527 451L527 450L529 450L529 449L531 449L531 448L533 448L533 447L535 447L535 446L537 446L537 445L539 445L539 444L541 444L541 443L543 443L543 442L545 442L545 441L547 441L547 440L549 440L549 439L551 439L551 438L553 438L553 437L555 437L555 436L557 436L557 435L559 435L559 434L561 434L561 433L563 433L563 432L565 432L565 431L567 431L567 431L569 431L569 430L571 430L571 430L573 430L573 429L575 429L575 429L577 429L577 428L579 428L579 428L581 428L581 427L583 427L583 426L585 426L585 426L587 426L587 425L589 425L589 425L591 425L591 424L593 424L593 424L595 424L595 423L597 423L597 423L599 423L599 422L601 422L601 421L603 421L603 421L605 421L605 420L607 420L607 419L609 419L609 418L611 418L611 417L613 417L613 416L615 416L615 415L617 415L617 415L619 415L619 414L621 414L621 413L623 413L623 412L625 412L625 411L627 411L627 410L629 410L629 409L631 409L631 408L633 408L633 408L635 408L635 407L637 407L637 406L639 406L639 405L641 405L641 404L643 404L643 403L645 403L645 402L647 402L647 402L649 402L649 401L651 401L651 400L653 400L653 399L655 399L655 398L657 398L657 397L659 397L659 396L661 396L661 395L663 395L663 394L665 394L665 393L667 393L667 392L669 392L669 391L671 391L671 390L673 390L673 389L675 389L675 388L677 388L677 387L679 387L679 386L681 386L681 385L683 385L683 384L685 384L685 383L687 383L687 382L689 382L689 381L691 381L691 380L693 380L693 379L695 379L695 378L697 378L697 378L699 378L699 377L701 377L701 376L703 376L703 375L705 375L705 375L707 375L707 374L709 374L709 373L711 373L711 372L713 372L713 371L715 371L715 371L717 371L717 370L719 370L719 369L721 369L721 368L723 368L723 368L725 368L725 367L727 367L727 366L729 366L729 366L731 366L731 365L733 365L733 364L735 364L735 364L737 364L737 363L739 363L739 362L741 362L741 362L743 362L743 361L745 361L745 360L747 360L747 360L749 360L749 359L751 359L751 358L753 358L753 358L755 358L755 357L757 357L757 357L759 357L759 356L761 356L761 355L763 355L763 355L765 355L765 354L767 354L767 353L769 353L769 353L771 353L771 352L773 352L773 351L775 351L775 351L777 351L777 350L779 350L779 580Z"/>
<path fill="#ffff00" d="M49 579h2v1h-2zM51 578h2v1h-2zM51 578h1v1h-1zM53 577h2v1h-2zM53 577h1v1h-1zM55 577h2v1h-2zM57 576h2v1h-2zM57 576h1v1h-1zM59 575h2v1h-2zM59 575h1v1h-1zM61 575h2v1h-2zM63 574h2v1h-2zM63 574h1v1h-1zM65 573h2v1h-2zM65 573h1v1h-1zM67 572h2v1h-2zM67 572h1v1h-1zM69 571h2v1h-2zM69 571h1v1h-1zM71 571h2v1h-2zM73 570h2v1h-2zM73 570h1v1h-1zM75 569h2v1h-2zM75 569h1v1h-1zM77 569h2v1h-2zM79 568h2v1h-2zM79 568h1v1h-1zM81 567h2v1h-2zM81 567h1v1h-1zM83 567h2v1h-2zM85 566h2v1h-2zM85 566h1v1h-1zM87 565h2v1h-2zM87 565h1v1h-1zM89 565h2v1h-2zM91 564h2v1h-2zM91 564h1v1h-1zM93 564h2v1h-2zM95 563h2v1h-2zM95 563h1v1h-1zM97 563h2v1h-2zM99 562h2v1h-2zM99 562h1v1h-1zM101 561h2v1h-2zM101 561h1v1h-1zM103 561h2v1h-2zM105 560h2v1h-2zM105 560h1v1h-1zM107 560h2v1h-2zM109 559h2v1h-2zM109 559h1v1h-1zM111 559h2v1h-2zM113 558h2v1h-2zM113 558h1v1h-1zM115 557h2v1h-2zM115 557h1v1h-1zM117 557h2v1h-2zM119 556h2v1h-2zM119 556h1v1h-1zM121 555h2v1h-2zM121 555h1v1h-1zM123 555h2v1h-2zM125 554h2v1h-2zM125 554h1v1h-1zM127 553h2v1h-2zM127 553h1v1h-1zM129 553h2v1h-2zM131 552h2v1h-2zM131 552h1v1h-1zM133 551h2v1h-2zM133 551h1v1h-1zM135 551h2v1h-2zM137 550h2v1h-2zM137 550h1v1h-1zM139 549h2v1h-2zM139 549h1v1h-1zM141 549h2v1h-2zM143 548h2v1h-2zM143 548h1v1h-1zM145 547h2v1h-2zM145 547h1v1h-1zM147 547h2v1h-2zM149 546h2v1h-2zM149 546h1v1h-1zM151 545h2v1h-2zM151 545h1v1h-1zM153 545h2v1h-2zM155 544h2v1h-2zM155 544h1v1h-1zM157 544h2v1h-2zM159 543h2v1h-2zM159 543h1v1h-1zM161 542h2v1h-2zM161 542h1v1h-1zM163 542h2v1h-2zM165 541h2v1h-2zM165 541h1v1h-1zM167 540h2v1h-2zM167 540h1v1h-1zM169 540h2v1h-2zM171 539h2v1h-2zM171 539h1v1h-1zM173 539h2v1h-2zM175 539h2v1h-2zM177 538h2v1h-2zM177 538h1v1h-1zM179 538h2v1h-2zM181 538h2v1h-2zM183 538h2v1h-2zM185 537h2v1h-2zM185 537h1v1h-1zM187 537h2v1h-2zM189 537h2v1h-2zM191 536h2v1h-2zM191 536h1v1h-1zM193 536h2v1h-2zM195 536h2v1h-2zM197 535h2v1h-2zM197 535h1v1h-1zM199 535h2v1h-2zM201 535h2v1h-2zM203 534h2v1h-2zM203 534h1v1h-1zM205 534h2v1h-2zM207 534h2v1h-2zM209 534h2v1h-2zM211 533h2v1h-2zM211 533h1v1h-1zM213 533h2v1h-2zM215 533h2v1h-2zM217 532h2v1h-2zM217 532h1v1h-1zM219 532h2v1h-2zM221 532h2v1h-2zM223 531h2v1h-2zM223 531h1v1h-1zM225 531h2v1h-2zM227 531h2v1h-2zM229 530h2v1h-2zM229 530h1v1h-1zM231 530h2v1h-2zM233 530h2v1h-2zM235 530h2v1h-2zM237 529h2v1h-2zM237 529h1v1h-1zM239 529h2v1h-2zM241 529h2v1h-2zM243 528h2v1h-2zM243 528h1v1h-1zM245 528h2v1h-2zM247 528h2v1h-2zM249 528h2v1h-2zM251 527h2v1h-2zM251 527h1v1h-1zM253 527h2v1h-2zM255 527h2v1h-2zM257 527h2v1h-2zM259 526h2v1h-2zM259 526h1v1h-1zM261 526h2v1h-2zM263 526h2v1h-2zM265 526h2v1h-2zM267 525h2v1h-2zM267 525h1v1h-1zM269 525h2v1h-2zM271 525h2v1h-2zM273 524h2v1h-2zM273 524h1v1h-1zM275 524h2v1h-2zM277 524h2v1h-2zM279 524h2v1h-2zM281 523h2v1h-2zM281 523h1v1h-1zM283 523h2v1h-2zM285 523h2v1h-2zM287 523h2v1h-2zM289 522h2v1h-2zM289 522h1v1h-1zM291 522h2v1h-2zM293 522h2v1h-2zM295 522h2v1h-2zM297 521h2v1h-2zM297 521h1v1h-1zM299 521h2v1h-2zM301 521h2v1h-2zM303 520h2v1h-2zM303 520h1v1h-1zM305 520h2v1h-2zM307 520h2v1h-2zM309 519h2v1h-2zM309 519h1v1h-1zM311 519h2v1h-2zM313 519h2v1h-2zM315 518h2v1h-2zM315 518h1v1h-1zM317 518h2v1h-2zM319 518h2v1h-2zM321 517h2v1h-2zM321 517h1v1h-1zM323 517h2v1h-2zM325 517h2v1h-2zM327 516h2v1h-2zM327 516h1v1h-1zM329 516h2v1h-2zM331 516h2v1h-2zM333 515h2v1h-2zM333 515h1v1h-1zM335 515h2v1h-2zM337 514h2v1h-2zM337 514h1v1h-1zM339 514h2v1h-2zM341 514h2v1h-2zM343 513h2v1h-2zM343 513h1v1h-1zM345 513h2v1h-2zM347 513h2v1h-2zM349 512h2v1h-2zM349 512h1v1h-1zM351 512h2v1h-2zM353 512h2v1h-2zM355 511h2v1h-2zM355 511h1v1h-1zM357 511h2v1h-2zM359 510h2v1h-2zM359 510h1v1h-1zM361 510h2v1h-2zM363 509h2v1h-2zM363 509h1v1h-1zM365 509h2v1h-2zM367 508h2v1h-2zM367 508h1v1h-1zM369 508h2v1h-2zM371 507h2v1h-2zM371 507h1v1h-1zM373 507h2v1h-2zM375 506h2v1h-2zM375 506h1v1h-1zM377 506h2v1h-2zM379 506h2v1h-2zM381 505h2v1h-2zM381 505h1v1h-1zM383 505h2v1h-2zM385 504h2v1h-2zM385 504h1v1h-1zM387 504h2v1h-2zM389 503h2v1h-2zM389 503h1v1h-1zM391 503h2v1h-2zM393 502h2v1h-2zM393 502h1v1h-1zM395 502h2v1h-2zM397 501h2v1h-2zM397 501h1v1h-1zM399 501h2v1h-2zM401 500h2v1h-2zM401 500h1v1h-1zM403 500h2v1h-2zM405 499h2v1h-2zM405 499h1v1h-1zM407 499h2v1h-2zM409 498h2v1h-2zM409 498h1v1h-1zM411 498h2v1h-2zM413 498h2v1h-2zM415 497h2v1h-2zM415 497h1v1h-1zM417 496h2v1h-2zM417 496h1v1h-1zM419 496h2v1h-2zM421 495h2v1h-2zM421 495h1v1h-1zM423 494h2v1h-2zM423 494h1v1h-1zM425 494h2v1h-2zM427 493h2v1h-2zM427 493h1v1h-1zM429 492h2v1h-2zM429 492h1v1h-1zM431 492h2v1h-2zM433 491h2v1h-2zM433 491h1v1h-1zM435 490h2v1h-2zM435 490h1v1h-1zM437 490h2v1h-2zM439 489h2v1h-2zM439 489h1v1h-1zM441 489h2v1h-2zM443 488h2v1h-2zM443 488h1v1h-1zM445 487h2v1h-2zM445 487h1v1h-1zM447 487h2v1h-2zM449 486h2v1h-2zM449 486h1v1h-1zM451 485h2v1h-2zM451 485h1v1h-1zM453 485h2v1h-2zM455 484h2v1h-2zM455 484h1v1h-1zM457 483h2v1h-2zM457 483h1v1h-1zM459 482h2v1h-2zM459 482h1v1h-1zM461 482h2v1h-2zM463 481h2v1h-2zM463 481h1v1h-1zM465 480h2v1h-2zM465 480h1v1h-1zM467 480h2v1h-2zM469 479h2v1h-2zM469 479h1v1h-1zM471 478h2v1h-2zM471 478h1v1h-1zM473 477h2v1h-2zM473 477h1v1h-1zM475 476h2v1h-2zM475 476h1v1h-1zM477 475h2v1h-2zM477 475h1v1h-1zM479 474h2v1h-2zM479 474h1v1h-1zM481 473h2v1h-2zM481 473h1v1h-1zM483 472h2v1h-2zM483 472h1v1h-1zM485 471h2v1h-2zM485 471h1v1h-1zM487 470h2v1h-2zM487 470h1v1h-1zM489 469h2v1h-2zM489 469h1v1h-1zM491 468h2v1h-2zM491 468h1v1h-1zM493 467h2v1h-2zM493 467h1v1h-1zM495 466h2v1h-2zM495 466h1v1h-1zM497 465h2v1h-2zM497 465h1v1h-1zM499 464h2v1h-2zM499 464h1v1h-1zM501 463h2v1h-2zM501 463h1v1h-1zM503 462h2v1h-2zM503 462h1v1h-1zM505 461h2v1h-2zM505 461h1v1h-1zM507 460h2v1h-2zM507 460h1v1h-1zM509 459h2v1h-2zM509 459h1v1h-1zM511 458h2v1h-2zM511 458h1v1h-1zM513 457h2v1h-2zM513 457h1v1h-1zM515 456h2v1h-2zM515 456h1v1h-1zM517 455h2v1h-2zM517 455h1v1h-1zM519 454h2v1h-2zM519 454h1v1h-1zM521 453h2v1h-2zM521 453h1v1h-1zM523 452h2v1h-2zM523 452h1v1h-1zM525 451h2v1h-2zM525 451h1v1h-1zM527 450h2v1h-2zM527 450h1v1h-1zM529 449h2v1h-2zM529 449h1v1h-1zM531 448h2v1h-2zM531 448h1v1h-1zM533 447h2v1h-2zM533 447h1v1h-1zM535 446h2v1h-2zM535 446h1v1h-1zM537 445h2v1h-2zM537 445h1v1h-1zM539 444h2v1h-2zM539 444h1v1h-1zM541 443h2v1h-2zM541 443h1v1h-1zM543 442h2v1h-2zM543 442h1v1h-1zM545 441h2v1h-2zM545 441h1v1h-1zM547 440h2v1h-2zM547 440h1v1h-1zM549 439h2v1h-2zM549 439h1v1h-1zM551 438h2v1h-2zM551 438h1v1h-1zM553 437h2v1h-2zM553 437h1v1h-1zM555 436h2v1h-2zM555 436h1v1h-1zM557 435h2v1h-2zM557 435h1v1h-1zM559 434h2v1h-2zM559 434h1v1h-1zM561 433h2v1h-2zM561 433h1v1h-1zM563 432h2v1h-2zM563 432h1v1h-1zM565 431h2v1h-2zM565 431h1v1h-1zM567 431h2v1h-2zM569 430h2v1h-2zM569 430h1v1h-1zM571 430h2v1h-2zM573 429h2v1h-2zM573 429h1v1h-1zM575 429h2v1h-2zM577 428h2v1h-2zM577 428h1v1h-1zM579 428h2v1h-2zM581 427h2v1h-2zM581 427h1v1h-1zM583 426h2v1h-2zM583 426h1v1h-1zM585 426h2v1h-2zM587 425h2v1h-2zM587 425h1v1h-1zM589 425h2v1h-2zM591 424h2v1h-2zM591 424h1v1h-1zM593 424h2v1h-2zM595 423h2v1h-2zM595 423h1v1h-1zM597 423h2v1h-2zM599 422h2v1h-2zM599 422h1v1h-1zM601 421h2v1h-2zM601 421h1v1h-1zM603 421h2v1h-2zM605 420h2v1h-2zM605 420h1v1h-1zM607 419h2v1h-2zM607 419h1v1h-1zM609 418h2v1h-2zM609 418h1v1h-1zM611 417h2v1h-2zM611 417h1v1h-1zM613 416h2v1h-2zM613 416h1v1h-1zM615 415h2v1h-2zM615 415h1v1h-1zM617 415h2v1h-2zM619 414h2v1h-2zM619 414h1v1h-1zM621 413h2v1h-2zM621 413h1v1h-1zM623 412h2v1h-2zM623 412h1v1h-1zM625 411h2v1h-2zM625 411h1v1h-1zM627 410h2v1h-2zM627 410h1v1h-1zM629 409h2v1h-2zM629 409h1v1h-1zM631 408h2v1h-2zM631 408h1v1h-1zM633 408h2v1h-2zM635 407h2v1h-2zM635 407h1v1h-1zM637 406h2v1h-2zM637 406h1v1h-1zM639 405h2v1h-2zM639 405h1v1h-1zM641 404h2v1h-2zM641 404h1v1h-1zM643 403h2v1h-2zM643 403h1v1h-1zM645 402h2v1h-2zM645 402h1v1h-1zM647 402h2v1h-2zM649 401h2v1h-2zM649 401h1v1h-1zM651 400h2v1h-2zM651 400h1v1h-1zM653 399h2v1h-2zM653 399h1v1h-1zM655 398h2v1h-2zM655 398h1v1h-1zM657 397h2v1h-2zM657 397h1v1h-1zM659 396h2v1h-2zM659 396h1v1h-1zM661 395h2v1h-2zM661 395h1v1h-1zM663 394h2v1h-2zM663 394h1v1h-1zM665 393h2v1h-2zM665 393h1v1h-1zM667 392h2v1h-2zM667 392h1v1h-1zM669 391h2v1h-2zM669 391h1v1h-1zM671 390h2v1h-2zM671 390h1v1h-1zM673 389h2v1h-2zM673 389h1v1h-1zM675 388h2v1h-2zM675 388h1v1h-1zM677 387h2v1h-2zM677 387h1v1h-1zM679 386h2v1h-2zM679 386h1v1h-1zM681 385h2v1h-2zM681 385h1v1h-1zM683 384h2v1h-2zM683 384h1v1h-1zM685 383h2v1h-2zM685 383h1v1h-1zM687 382h2v1h-2zM687 382h1v1h-1zM689 381h2v1h-2zM689 381h1v1h-1zM691 380h2v1h-2zM691 380h1v1h-1zM693 379h2v1h-2zM693 379h1v1h-1zM695 378h2v1h-2zM695 378h1v1h-1zM697 378h2v1h-2zM699 377h2v1h-2zM699 377h1v1h-1zM701 376h2v1h-2zM701 376h1v1h-1zM703 375h2v1h-2zM703 375h1v1h-1zM705 375h2v1h-2zM707 374h2v1h-2zM707 374h1v1h-1zM709 373h2v1h-2zM709 373h1v1h-1zM711 372h2v1h-2zM711 372h1v1h-1zM713 371h2v1h-2zM713 371h1v1h-1zM715 371h2v1h-2zM717 370h2v1h-2zM717 370h1v1h-1zM719 369h2v1h-2zM719 369h1v1h-1zM721 368h2v1h-2zM721 368h1v1h-1zM723 368h2v1h-2zM725 367h2v1h-2zM725 367h1v1h-1zM727 366h2v1h-2zM727 366h1v1h-1zM729 366h2v1h-2zM731 365h2v1h-2zM731 365h1v1h-1zM733 364h2v1h-2zM733 364h1v1h-1zM735 364h2v1h-2zM737 363h2v1h-2zM737 363h1v1h-1zM739 362h2v1h-2zM739 362h1v1h-1zM741 362h2v1h-2zM743 361h2v1h-2zM743 361h1v1h-1zM745 360h2v1h-2zM745 360h1v1h-1zM747 360h2v1h-2zM749 359h2v1h-2zM749 359h1v1h-1zM751 358h2v1h-2zM751 358h1v1h-1zM753 358h2v1h-2zM755 357h2v1h-2zM755 357h1v1h-1zM757 357h2v1h-2zM759 356h2v1h-2zM759 356h1v1h-1zM761 355h2v1h-2zM761 355h1v1h-1zM763 355h2v1h-2zM765 354h2v1h-2zM765 354h1v1h-1zM767 353h2v1h-2zM767 353h1v1h-1zM769 353h2v1h-2zM771 352h2v1h-2zM771 352h1v1h-1zM773 351h2v1h-2zM773 351h1v1h-1zM775 351h2v1h-2zM777 350h2v1h-2zM777 350h1v1h-1z"/>
<path fill="#80ff80" d="M50 580L50 579L51 579L51 579L52 579L52 579L53 579L53 579L54 579L54 579L55 579L55 577L56 577L56 577L57 577L57 577L58 577L58 577L59 577L59 577L60 577L60 577L61 577L61 577L62 577L62 577L63 577L63 577L64 577L64 577L65 577L65 577L66 577L66 577L67 577L67 577L68 577L68 577L69 577L69 577L70 577L70 577L71 577L71 577L72 577L72 577L73 577L73 577L74 577L74 577L75 577L75 577L76 577L76 577L77 577L77 576L78 576L78 576L79 576L79 576L80 576L80 576L81 576L81 575L82 575L82 575L83 575L83 575L84 575L84 575L85 575L85 575L86 575L86 575L87 575L87 575L88 575L88 575L89 575L89 575L90 575L90 575L91 575L91 575L92 575L92 575L93 575L93 575L94 575L94 575L95 575L95 575L96 575L96 575L97 575L97 575L98 575L98 575L99 575L99 575L100 575L100 575L101 575L101 575L102 575L102 575L103 575L103 575L104 575L104 575L105 575L105 575L106 575L106 575L107 575L107 570L108 570L108 570L109 570L109 565L110 565L110 565L111 565L111 565L112 565L112 565L113 565L113 565L114 565L114 565L115 565L115 565L116 565L116 565L117 565L117 565L118 565L118 564L119 564L119 564L120 564L120 564L121 564L121 560L122 560L122 560L123 560L123 560L124 560L124 560L125 560L125 560L126 560L126 560L127 560L127 560L128 560L128 560L129 560L129 560L130 560L130 560L131 560L131 560L132 560L132 560L133 560L133 560L134 560L134 560L135 560L135 560L136 560L136 560L137 560L137 560L138 560L138 560L139 560L139 560L140 560L140 560L141 560L141 556L142 556L142 556L143 556L143 556L144 556L144 552L145 552L145 552L146 552L146 552L147 552L147 552L148 552L148 552L149 552L149 552L150 552L150 551L151 551L151 551L152 551L152 551L153 551L153 551L154 551L154 551L155 551L155 551L156 551L156 551L157 551L157 551L158 551L158 551L159 551L159 551L160 551L160 551L161 551L161 551L162 551L162 551L163 551L163 551L164 551L164 551L165 551L165 551L166 551L166 551L167 551L167 551L168 551L168 551L169 551L169 551L170 551L170 551L171 551L171 551L172 551L172 551L173 551L173 551L174 551L174 551L175 551L175 551L176 551L176 551L177 551L177 551L178 551L178 551L179 551L179 551L180 551L180 551L181 551L181 551L182 551L182 551L183 551L183 551L184 551L184 550L185 550L185 550L186 550L186 550L187 550L187 550L188 550L188 550L189 550L189 550L190 550L190 550L191 550L191 550L192 550L192 550L193 550L193 550L194 550L194 550L195 550L195 550L196 550L196 550L197 550L197 548L198 548L198 548L199 548L199 548L200 548L200 548L201 548L201 548L202 548L202 548L203 548L203 548L204 548L204 548L205 548L205 548L206 548L206 548L207 548L207 548L208 548L208 548L209 548L209 548L210 548L210 545L211 545L211 545L212 545L212 545L213 545L213 545L214 545L214 545L215 545L215 545L216 545L216 545L217 545L217 545L218 545L218 545L219 545L219 545L220 545L220 545L221 545L221 545L222 545L222 545L223 545L223 545L224 545L224 545L225 545L225 545L226 545L226 545L227 545L227 545L228 545L228 545L229 545L229 545L230 545L230 545L231 545L231 545L232 545L232 545L233 545L233 545L234 545L234 545L235 545L235 545L236 545L236 545L237 545L237 545L238 545L238 545L239 545L239 545L240 545L240 545L241 545L241 545L242 545L242 545L243 545L243 545L244 545L244 545L245 545L245 545L246 545L246 545L247 545L247 545L248 545L248 545L249 545L249 545L250 545L250 545L251 545L251 541L252 541L252 541L253 541L253 541L254 541L254 541L255 541L255 541L256 541L256 541L257 541L257 541L258 541L258 541L259 541L259 541L260 541L260 541L261 541L261 541L262 541L262 541L263 541L263 541L264 541L264 541L265 541L265 541L266 541L266 541L267 541L267 541L268 541L268 541L269 541L269 541L270 541L270 541L271 541L271 541L272 541L272 541L273 541L273 541L274 541L274 541L275 541L275 541L276 541L276 541L277 541L277 541L278 541L278 541L279 541L279 541L280 541L280 541L281 541L281 541L282 541L282 541L283 541L283 541L284 541L284 539L285 539L285 539L286 539L286 539L287 539L287 539L288 539L288 539L289 539L289 539L290 539L290 539L291 539L291 539L292 539L292 539L293 539L293 539L294 539L294 539L295 539L295 539L296 539L296 539L297 539L297 539L298 539L298 539L299 539L299 539L300 539L300 539L301 539L301 539L302 539L302 539L303 539L303 539L304 539L304 539L305 539L305 539L306 539L306 539L307 539L307 539L308 539L308 539L309 539L309 539L310 539L310 539L311 539L311 539L312 539L312 539L313 539L313 539L314 539L314 539L315 539L315 539L316 539L316 539L317 539L317 539L318 539L318 539L319 539L319 539L320 539L320 539L321 539L321 539L322 539L322 539L323 539L323 539L324 539L324 539L325 539L325 539L326 539L326 539L327 539L327 538L328 538L328 538L329 538L329 538L330 538L330 538L331 538L331 538L332 538L332 538L333 538L333 538L334 538L334 538L335 538L335 538L336 538L336 538L337 538L337 538L338 538L338 538L339 538L339 538L340 538L340 538L341 538L341 538L342 538L342 538L343 538L343 538L344 538L344 538L345 538L345 538L346 538L346 538L347 538L347 538L348 538L348 538L349 538L349 538L350 538L350 538L351 538L351 538L352 538L352 538L353 538L353 538L354 538L354 538L355 538L355 538L356 538L356 538L357 538L357 538L358 538L358 538L359 538L359 538L360 538L360 538L361 538L361 538L362 538L362 538L363 538L363 538L364 538L364 538L365 538L365 538L366 538L366 538L367 538L367 538L368 538L368 538L369 538L369 538L370 538L370 538L371 538L371 537L372 537L372 537L373 537L373 537L374 537L374 537L375 537L375 537L376 537L376 537L377 537L377 537L378 537L378 537L379 537L379 537L380 537L380 537L381 537L381 537L382 537L382 537L383 537L383 537L384 537L384 537L385 537L385 537L386 537L386 537L387 537L387 536L388 536L388 536L389 536L389 536L390 536L390 536L391 536L391 536L392 536L392 536L393 536L393 536L394 536L394 536L395 536L395 536L396 536L396 536L397 536L397 536L398 536L398 536L399 536L399 536L400 536L400 536L401 536L401 536L402 536L402 536L403 536L403 534L404 534L404 534L405 534L405 534L406 534L406 534L407 534L407 534L408 534L408 534L409 534L409 534L410 534L410 534L411 534L411 534L412 534L412 534L413 534L413 534L414 534L414 534L415 534L415 534L416 534L416 534L417 534L417 532L418 532L418 532L419 532L419 532L420 532L420 532L421 532L421 532L422 532L422 532L423 532L423 532L424 532L424 532L425 532L425 532L426 532L426 532L427 532L427 532L428 532L428 532L429 532L429 532L430 532L430 532L431 532L431 532L432 532L432 532L433 532L433 532L434 532L434 532L435 532L435 532L436 532L436 532L437 532L437 528L438 528L438 528L439 528L439 528L440 528L440 528L441 528L441 528L442 528L442 528L443 528L443 528L444 528L444 528L445 528L445 528L446 528L446 528L447 528L447 528L448 528L448 528L449 528L449 528L450 528L450 528L451 528L451 528L452 528L452 528L453 528L453 528L454 528L454 528L455 528L455 528L456 528L456 528L457 528L457 528L458 528L458 528L459 528L459 528L460 528L460 528L461 528L461 527L462 527L462 527L463 527L463 527L464 527L464 527L465 527L465 527L466 527L466 527L467 527L467 522L468 522L468 522L469 522L469 522L470 522L470 522L471 522L471 522L472 522L472 522L473 522L473 522L474 522L474 522L475 522L475 522L476 522L476 522L477 522L477 522L478 522L478 522L479 522L479 522L480 522L480 522L481 522L481 522L482 522L482 522L483 522L483 522L484 522L484 522L485 522L485 522L486 522L486 522L487 522L487 516L488 516L488 516L489 516L489 516L490 516L490 516L491 516L491 516L492 516L492 513L493 513L493 513L494 513L494 513L495 513L495 513L496 513L496 507L497 507L497 507L498 507L498 507L499 507L499 507L500 507L500 507L501 507L501 505L502 505L502 505L503 505L503 505L504 505L504 505L505 505L505 505L506 505L506 505L507 505L507 505L508 505L508 505L509 505L509 505L510 505L510 505L511 505L511 502L512 502L512 502L513 502L513 502L514 502L514 502L515 502L515 502L516 502L516 502L517 502L517 502L518 502L518 502L519 502L519 502L520 502L520 502L521 502L521 502L522 502L522 502L523 502L523 502L524 502L524 502L525 502L525 498L526 498L526 498L527 498L527 498L528 498L528 498L529 498L529 498L530 498L530 498L531 498L531 498L532 498L532 498L533 498L533 498L534 498L534 498L535 498L535 498L536 498L536 498L537 498L537 498L538 498L538 498L539 498L539 498L540 498L540 498L541 498L541 496L542 496L542 496L543 496L543 496L544 496L544 496L545 496L545 496L546 496L546 496L547 496L547 494L548 494L548 494L549 494L549 494L550 494L550 494L551 494L551 494L552 494L552 494L553 494L553 490L554 490L554 490L555 490L555 487L556 487L556 487L557 487L557 487L558 487L558 487L559 487L559 487L560 487L560 487L561 487L561 487L562 487L562 487L563 487L563 487L564 487L564 487L565 487L565 487L566 487L566 487L567 487L567 487L568 487L568 487L569 487L569 475L570 475L570 475L571 475L571 475L572 475L572 473L573 473L573 473L574 473L574 473L575 473L575 468L576 468L576 468L577 468L577 468L578 468L578 468L579 468L579 468L580 468L580 468L581 468L581 468L582 468L582 468L583 468L583 467L584 467L584 467L585 467L585 467L586 467L586 467L587 467L587 467L588 467L588 467L589 467L589 467L590 467L590 467L591 467L591 467L592 467L592 467L593 467L593 455L594 455L594 455L595 455L595 452L596 452L596 452L597 452L597 452L598 452L598 452L599 452L599 452L600 452L600 452L601 452L601 452L602 452L602 452L603 452L603 452L604 452L604 452L605 452L605 452L606 452L606 450L607 450L607 450L608 450L608 450L609 450L609 450L610 450L610 450L611 450L611 450L612 450L612 450L613 450L613 450L614 450L614 450L615 450L615 450L616 450L616 442L617 442L617 442L618 442L618 442L619 442L619 442L620 442L620 442L621 442L621 442L622 442L622 442L623 442L623 442L624 442L624 442L625 442L625 442L626 442L626 442L627 442L627 442L628 442L628 442L629 442L629 442L630 442L630 442L631 442L631 442L632 442L632 442L633 442L633 442L634 442L634 442L635 442L635 442L636 442L636 442L637 442L637 441L638 441L638 441L639 441L639 441L640 441L640 441L641 441L641 441L642 441L642 441L643 441L643 441L644 441L644 441L645 441L645 441L646 441L646 441L647 441L647 441L648 441L648 441L649 441L649 441L650 441L650 441L651 441L651 441L652 441L652 441L653 441L653 441L654 441L654 441L655 441L655 441L656 441L656 441L657 441L657 441L658 441L658 441L659 441L659 441L660 441L660 441L661 441L661 441L662 441L662 441L663 441L663 436L664 436L664 436L665 436L665 436L666 436L666 436L667 436L667 436L668 436L668 436L669 436L669 436L670 436L670 436L671 436L671 436L672 436L672 436L673 436L673 436L674 436L674 436L675 436L675 436L676 436L676 436L677 436L677 426L678 426L678 426L679 426L679 426L680 426L680 426L681 426L681 426L682 426L682 426L683 426L683 426L684 426L684 426L685 426L685 426L686 426L686 426L687 426L687 426L688 426L688 426L689 426L689 426L690 426L690 426L691 426L691 426L692 426L692 426L693 426L693 426L694 426L694 426L695 426L695 426L696 426L696 426L697 426L697 416L698 416L698 416L699 416L699 406L700 406L700 406L701 406L701 406L702 406L702 406L703 406L703 406L704 406L704 406L705 406L705 406L706 406L706 406L707 406L707 406L708 406L708 406L709 406L709 406L710 406L710 406L711 406L711 406L712 406L712 406L713 406L713 406L714 406L714 406L715 406L715 406L716 406L716 406L717 406L717 406L718 406L718 406L719 406L719 406L720 406L720 406L721 406L721 406L722 406L722 406L723 406L723 406L724 406L724 406L725 406L725 402L726 402L726 402L727 402L727 402L728 402L728 402L729 402L729 402L730 402L730 402L731 402L731 402L732 402L732 402L733 402L733 402L734 402L734 402L735 402L735 402L736 402L736 402L737 402L737 393L738 393L738 393L739 393L739 393L740 393L740 391L741 391L741 391L742 391L742 391L743 391L743 391L744 391L744 391L745 391L745 391L746 391L746 391L747 391L747 391L748 391L748 391L749 391L749 391L750 391L750 391L751 391L751 391L752 391L752 391L753 391L753 391L754 391L754 391L755 391L755 391L756 391L756 391L757 391L757 391L758 391L758 391L759 391L759 391L760 391L760 391L761 391L761 391L762 391L762 391L763 391L763 391L764 391L764 391L765 391L765 391L766 391L766 391L767 391L767 391L768 391L768 391L769 391L769 391L770 391L770 391L771 391L771 391L772 391L772 391L773 391L773 391L774 391L774 391L775 391L775 391L776 391L776 391L777 391L777 391L778 391L778 580Z"/>
<path fill="#006e00" d="M185 680L185 676L186 676L186 676L187 676L187 676L188 676L188 676L189 676L189 676L190 676L190 676L191 676L191 673L192 673L192 673L193 673L193 673L194 673L194 673L195 673L195 673L196 673L196 673L197 673L197 668L198 668L198 668L199 668L199 668L200 668L200 668L201 668L201 666L202 666L202 666L203 666L203 666L204 666L204 666L205 666L205 666L206 666L206 666L207 666L207 666L208 666L208 666L209 666L209 666L210 666L210 666L211 666L211 666L212 666L212 666L213 666L213 665L214 665L214 665L215 665L215 665L216 665L216 665L217 665L217 665L218 665L218 665L219 665L219 663L220 663L220 663L221 663L221 663L222 663L222 663L223 663L223 663L224 663L224 663L225 663L225 663L226 663L226 663L227 663L227 663L228 663L228 663L229 663L229 663L230 663L230 663L231 663L231 663L232 663L232 657L233 657L233 657L234 657L234 655L235 655L235 655L236 655L236 655L237 655L237 655L238 655L238 655L239 655L239 647L240 647L240 647L241 647L241 635L242 635L242 635L243 635L243 635L244 635L244 635L245 635L245 635L246 635L246 635L247 635L247 635L248 635L248 635L249 635L249 635L250 635L250 635L251 635L251 635L252 635L252 635L253 635L253 635L254 635L254 635L255 635L255 635L256 635L256 635L257 635L257 635L258 635L258 635L259 635L259 635L260 635L260 635L261 635L261 635L262 635L262 635L263 635L263 635L264 635L264 635L265 635L265 632L266 632L266 632L267 632L267 625L268 625L268 625L269 625L269 625L270 625L270 625L271 625L271 624L272 624L272 624L273 624L273 624L274 624L274 624L275 624L275 624L276 624L276 624L277 624L277 624L278 624L278 624L279 624L279 622L280 622L280 622L281 622L281 622L282 622L282 622L283 622L283 622L284 622L284 622L285 622L285 622L286 622L286 622L287 622L287 622L288 622L288 622L289 622L289 622L290 622L290 622L291 622L291 621L292 621L292 621L293 621L293 621L294 621L294 621L295 621L295 617L296 617L296 617L297 617L297 617L298 617L298 617L299 617L299 617L300 617L300 617L301 617L301 617L302 617L302 612L303 612L303 612L304 612L304 612L305 612L305 612L306 612L306 612L307 612L307 612L308 612L308 612L309 612L309 609L310 609L310 609L311 609L311 609L312 609L312 609L313 609L313 609L314 609L314 609L315 609L315 609L316 609L316 609L317 609L317 609L318 609L318 609L319 609L319 609L320 609L320 609L321 609L321 609L322 609L322 609L323 609L323 609L324 609L324 607L325 607L325 607L326 607L326 607L327 607L327 600L328 600L328 600L329 600L329 600L330 600L330 600L331 600L331 600L332 600L332 600L333 600L333 600L334 600L334 600L335 600L335 600L336 600L336 600L337 600L337 600L338 600L338 600L339 600L339 600L340 600L340 600L341 600L341 600L342 600L342 600L343 600L343 600L344 600L344 600L345 600L345 600L346 600L346 600L347 600L347 600L348 600L348 600L349 600L349 600L350 600L350 600L351 600L351 593L352 593L352 593L353 593L353 593L354 593L354 593L355 593L355 593L356 593L356 593L357 593L357 593L358 593L358 593L359 593L359 592L360 592L360 592L361 592L361 592L362 592L362 592L363 592L363 592L364 592L364 592L365 592L365 592L366 592L366 592L367 592L367 592L368 592L368 592L369 592L369 592L370 592L370 592L371 592L371 592L372 592L372 592L373 592L373 590L374 590L374 590L375 590L375 590L376 590L376 590L377 590L377 590L378 590L378 590L379 590L379 590L380 590L380 590L381 590L381 590L382 590L382 590L383 590L383 590L384 590L384 590L385 590L385 590L386 590L386 590L387 590L387 590L388 590L388 590L389 590L389 590L390 590L390 590L391 590L391 590L392 590L392 590L393 590L393 590L394 590L394 590L395 590L395 590L396 590L396 590L397 590L397 590L398 590L398 590L399 590L399 590L400 590L400 590L401 590L401 590L402 590L402 590L403 590L403 590L404 590L404 590L405 590L405 590L406 590L406 590L407 590L407 590L408 590L408 590L409 590L409 590L410 590L410 590L411 590L411 590L412 590L412 590L413 590L413 590L414 590L414 590L415 590L415 590L416 590L416 590L417 590L417 590L418 590L418 590L419 590L419 590L420 590L420 590L421 590L421 590L422 590L422 590L423 590L423 590L424 590L424 590L425 590L425 590L426 590L426 590L427 590L427 590L428 590L428 590L429 590L429 590L430 590L430 590L431 590L431 590L432 590L432 590L433 590L433 590L434 590L434 590L435 590L435 590L436 590L436 590L437 590L437 590L438 590L438 588L439 588L439 588L440 588L440 588L441 588L441 588L442 588L442 588L443 588L443 588L444 588L444 588L445 588L445 588L446 588L446 588L447 588L447 588L448 588L448 588L449 588L449 588L450 588L450 588L451 588L451 588L452 588L452 588L453 588L453 588L454 588L454 588L455 588L455 588L456 588L456 588L457 588L457 588L458 588L458 588L459 588L459 588L460 588L460 588L461 588L461 588L462 588L462 588L463 588L463 588L464 588L464 588L465 588L465 588L466 588L466 588L467 588L467 588L468 588L468 588L469 588L469 588L470 588L470 588L471 588L471 588L472 588L472 588L473 588L473 588L474 588L474 588L475 588L475 588L476 588L476 588L477 588L477 588L478 588L478 588L479 588L479 588L480 588L480 588L481 588L481 588L482 588L482 588L483 588L483 588L484 588L484 588L485 588L485 588L486 588L486 588L487 588L487 588L488 588L488 588L489 588L489 588L490 588L490 588L491 588L491 588L492 588L492 588L493 588L493 588L494 588L494 588L495 588L495 588L496 588L496 588L497 588L497 588L498 588L498 588L499 588L499 588L500 588L500 588L501 588L501 588L502 588L502 588L503 588L503 588L504 588L504 588L505 588L505 588L506 588L506 588L507 588L507 588L508 588L508 588L509 588L509 588L510 588L510 588L511 588L511 588L512 588L512 588L513 588L513 588L514 588L514 588L515 588L515 588L516 588L516 588L517 588L517 588L518 588L518 588L519 588L519 588L520 588L520 588L521 588L521 588L522 588L522 588L523 588L523 588L524 588L524 588L525 588L525 588L526 588L526 588L527 588L527 588L528 588L528 588L529 588L529 588L530 588L530 588L531 588L531 588L532 588L532 588L533 588L533 588L534 588L534 588L535 588L535 588L536 588L536 588L537 588L537 588L538 588L538 588L539 588L539 588L540 588L540 588L541 588L541 588L542 588L542 588L543 588L543 588L544 588L544 588L545 588L545 588L546 588L546 588L547 588L547 588L548 588L548 588L549 588L549 588L550 588L550 588L551 588L551 588L552 588L552 588L553 588L553 588L554 588L554 588L555 588L555 588L556 588L556 588L557 588L557 588L558 588L558 588L559 588L559 588L560 588L560 588L561 588L561 588L562 588L562 588L563 588L563 588L564 588L564 588L565 588L565 588L566 588L566 588L567 588L567 588L568 588L568 588L569 588L569 588L570 588L570 588L571 588L571 588L572 588L572 588L573 588L573 588L574 588L574 588L575 588L575 588L576 588L576 588L577 588L577 588L578 588L578 588L579 588L579 588L580 588L580 588L581 588L581 588L582 588L582 588L583 588L583 588L584 588L584 588L585 588L585 588L586 588L586 588L587 588L587 588L588 588L588 588L589 588L589 588L590 588L590 588L591 588L591 588L592 588L592 588L593 588L593 588L594 588L594 588L595 588L595 588L596 588L596 588L597 588L597 588L598 588L598 588L599 588L599 588L600 588L600 588L601 588L601 588L602 588L602 588L603 588L603 588L604 588L604 588L605 588L605 588L606 588L606 588L607 588L607 588L608 588L608 588L609 588L609 588L610 588L610 588L611 588L611 588L612 588L612 588L613 588L613 588L614 588L614 588L615 588L615 588L616 588L616 588L617 588L617 588L618 588L618 588L619 588L619 588L620 588L620 588L621 588L621 588L622 588L622 588L623 588L623 588L624 588L624 588L625 588L625 588L626 588L626 588L627 588L627 588L628 588L628 588L629 588L629 588L630 588L630 588L631 588L631 588L632 588L632 588L633 588L633 588L634 588L634 588L635 588L635 588L636 588L636 588L637 588L637 588L638 588L638 588L639 588L639 588L640 588L640 588L641 588L641 588L642 588L642 588L643 588L643 588L644 588L644 588L645 588L645 588L646 588L646 588L647 588L647 588L648 588L648 588L649 588L649 588L650 588L650 588L651 588L651 588L652 588L652 588L653 588L653 588L654 588L654 588L655 588L655 588L656 588L656 588L657 588L657 588L658 588L658 588L659 588L659 588L660 588L660 588L661 588L661 588L662 588L662 588L663 588L663 588L664 588L664 588L665 588L665 588L666 588L666 588L667 588L667 588L668 588L668 588L669 588L669 588L670 588L670 588L671 588L671 588L672 588L672 588L673 588L673 588L674 588L674 588L675 588L675 588L676 588L676 588L677 588L677 588L678 588L678 588L679 588L679 588L680 588L680 588L681 588L681 588L682 588L682 588L683 588L683 588L684 588L684 588L685 588L685 588L686 588L686 588L687 588L687 588L688 588L688 588L689 588L689 588L690 588L690 588L691 588L691 588L692 588L692 588L693 588L693 588L694 588L694 588L695 588L695 588L696 588L696 588L697 588L697 588L698 588L698 588L699 588L699 588L700 588L700 588L701 588L701 588L702 588L702 588L703 588L703 588L704 588L704 588L705 588L705 588L706 588L706 588L707 588L707 588L708 588L708 588L709 588L709 588L710 588L710 588L711 588L711 588L712 588L712 588L713 588L713 588L714 588L714 588L715 588L715 588L716 588L716 588L717 588L717 588L718 588L718 588L719 588L719 588L720 588L720 588L721 588L721 588L722 588L722 588L723 588L723 588L724 588L724 588L725 588L725 588L726 588L726 588L727 588L727 588L728 588L728 588L729 588L729 588L730 588L730 588L731 588L731 588L732 588L732 588L733 588L733 588L734 588L734 588L735 588L735 588L736 588L736 588L737 588L737 588L738 588L738 588L739 588L739 588L740 588L740 588L741 588L741 588L742 588L742 588L743 588L743 588L744 588L744 588L745 588L745 588L746 588L746 588L747 588L747 588L748 588L748 588L749 588L749 588L750 588L750 588L751 588L751 588L752 588L752 588L753 588L753 588L754 588L754 588L755 588L755 588L756 588L756 588L757 588L757 588L758 588L758 588L759 588L759 588L760 588L760 588L761 588L761 588L762 588L762 588L763 588L763 588L764 588L764 588L765 588L765 588L766 588L766 588L767 588L767 588L768 588L768 588L769 588L769 588L770 588L770 588L771 588L771 588L772 588L772 588L773 588L773 588L774 588L774 588L775 588L775 588L776 588L776 588L777 588L777 588L778 588L778 680Z"/>
</g>
<text x="715.03" y="387.9" style="font-family:'DejaVu Sans','Liberation Sans',sans-serif;font-size:16px" textLength="44.56" lengthAdjust="spacingAndGlyphs" shape-rendering="geometricPrecision">30.33</text>
<text x="719.69" y="594.7" style="font-family:'DejaVu Sans','Liberation Sans',sans-serif;font-size:16px" textLength="35.94" lengthAdjust="spacingAndGlyphs" shape-rendering="geometricPrecision">54.9</text>
<path d="M51 50.5H777" stroke="#ffffff" stroke-width="1" stroke-dasharray="3 3" stroke-dashoffset="3" fill="none" style="mix-blend-mode:difference"/>
<path d="M51 90.5H777" stroke="#ffffff" stroke-width="1" stroke-dasharray="3 3" stroke-dashoffset="1" fill="none" style="mix-blend-mode:difference"/>
<path d="M51 130.5H777" stroke="#ffffff" stroke-width="1" stroke-dasharray="3 3" stroke-dashoffset="5" fill="none" style="mix-blend-mode:difference"/>
<path d="M51 170.5H777" stroke="#ffffff" stroke-width="1" stroke-dasharray="3 3" stroke-dashoffset="3" fill="none" style="mix-blend-mode:difference"/>
<path d="M51 210.5H777" stroke="#ffffff" stroke-width="1" stroke-dasharray="3 3" stroke-dashoffset="1" fill="none" style="mix-blend-mode:difference"/>
<path d="M51 250.5H777" stroke="#ffffff" stroke-width="1" stroke-dasharray="3 3" stroke-dashoffset="5" fill="none" style="mix-blend-mode:difference"/>
<path d="M51 290.5H777" stroke="#ffffff" stroke-width="1" stroke-dasharray="3 3" stroke-dashoffset="3" fill="none" style="mix-blend-mode:difference"/>
<path d="M51 355.5H777" stroke="#ffffff" stroke-width="1" stroke-dasharray="3 3" stroke-dashoffset="5" fill="none" style="mix-blend-mode:difference"/>
<path d="M51 380.5H777" stroke="#ffffff" stroke-width="1" stroke-dasharray="3 3" stroke-dashoffset="3" fill="none" style="mix-blend-mode:difference"/>
<path d="M51 405.5H777" stroke="#ffffff" stroke-width="1" stroke-dasharray="3 3" stroke-dashoffset="1" fill="none" style="mix-blend-mode:difference"/>
<path d="M51 430.5H777" stroke="#ffffff" stroke-width="1" stroke-dasharray="3 3" stroke-dashoffset="5" fill="none" style="mix-blend-mode:difference"/>
<path d="M51 455.5H777" stroke="#ffffff" stroke-width="1" stroke-dasharray="3 3" stroke-dashoffset="3" fill="none" style="mix-blend-mode:difference"/>
<path d="M51 480.5H777" stroke="#ffffff" stroke-width="1" stroke-dasharray="3 3" stroke-dashoffset="1" fill="none" style="mix-blend-mode:difference"/>
<path d="M51 505.5H777" stroke="#ffffff" stroke-width="1" stroke-dasharray="3 3" stroke-dashoffset="5" fill="none" style="mix-blend-mode:difference"/>
<path d="M51 530.5H777" stroke="#ffffff" stroke-width="1" stroke-dasharray="3 3" stroke-dashoffset="3" fill="none" style="mix-blend-mode:difference"/>
<path d="M51 555.5H777" stroke="#ffffff" stroke-width="1" stroke-dasharray="3 3" stroke-dashoffset="1" fill="none" style="mix-blend-mode:difference"/>
<path d="M51 605.5H777" stroke="#ffffff" stroke-width="1" stroke-dasharray="3 3" stroke-dashoffset="5" fill="none" style="mix-blend-mode:difference"/>
<path d="M51 630.5H777" stroke="#ffffff" stroke-width="1" stroke-dasharray="3 3" stroke-dashoffset="3" fill="none" style="mix-blend-mode:difference"/>
<path d="M51 655.5H777" stroke="#ffffff" stroke-width="1" stroke-dasharray="3 3" stroke-dashoffset="1" fill="none" style="mix-blend-mode:difference"/>
<path d="M111.5 31V680" stroke="#ffffff" stroke-width="1" stroke-dasharray="3 3" stroke-dashoffset="2" fill="none" style="mix-blend-mode:difference"/>
<path d="M171.5 31V680" stroke="#ffffff" stroke-width="1" stroke-dasharray="3 3" stroke-dashoffset="5" fill="none" style="mix-blend-mode:difference"/>
<path d="M233.5 31V680" stroke="#ffffff" stroke-width="1" stroke-dasharray="3 3" stroke-dashoffset="2" fill="none" style="mix-blend-mode:difference"/>
<path d="M295.5 31V680" stroke="#ffffff" stroke-width="1" stroke-dasharray="3 3" stroke-dashoffset="5" fill="none" style="mix-blend-mode:difference"/>
<path d="M351.5 31V680" stroke="#ffffff" stroke-width="1" stroke-dasharray="3 3" stroke-dashoffset="2" fill="none" style="mix-blend-mode:difference"/>
<path d="M413.5 31V680" stroke="#ffffff" stroke-width="1" stroke-dasharray="3 3" stroke-dashoffset="5" fill="none" style="mix-blend-mode:difference"/>
<path d="M473.5 31V680" stroke="#ffffff" stroke-width="1" stroke-dasharray="3 3" stroke-dashoffset="2" fill="none" style="mix-blend-mode:difference"/>
<path d="M535.5 31V680" stroke="#ffffff" stroke-width="1" stroke-dasharray="3 3" stroke-dashoffset="5" fill="none" style="mix-blend-mode:difference"/>
<path d="M595.5 31V680" stroke="#ffffff" stroke-width="1" stroke-dasharray="3 3" stroke-dashoffset="2" fill="none" style="mix-blend-mode:difference"/>
<path d="M657.5 31V680" stroke="#ffffff" stroke-width="1" stroke-dasharray="3 3" stroke-dashoffset="5" fill="none" style="mix-blend-mode:difference"/>
<path d="M719.5 31V680" stroke="#ffffff" stroke-width="1" stroke-dasharray="3 3" stroke-dashoffset="2" fill="none" style="mix-blend-mode:difference"/>
<path d="M51 50.5H777" stroke="#484848" stroke-opacity="0.835" stroke-width="1" stroke-dasharray="3 3" stroke-dashoffset="3" fill="none"/>
<path d="M51 90.5H777" stroke="#484848" stroke-opacity="0.835" stroke-width="1" stroke-dasharray="3 3" stroke-dashoffset="1" fill="none"/>
<path d="M51 130.5H777" stroke="#484848" stroke-opacity="0.835" stroke-width="1" stroke-dasharray="3 3" stroke-dashoffset="5" fill="none"/>
<path d="M51 170.5H777" stroke="#484848" stroke-opacity="0.835" stroke-width="1" stroke-dasharray="3 3" stroke-dashoffset="3" fill="none"/>
<path d="M51 210.5H777" stroke="#484848" stroke-opacity="0.835" stroke-width="1" stroke-dasharray="3 3" stroke-dashoffset="1" fill="none"/>
<path d="M51 250.5H777" stroke="#484848" stroke-opacity="0.835" stroke-width="1" stroke-dasharray="3 3" stroke-dashoffset="5" fill="none"/>
<path d="M51 290.5H777" stroke="#484848" stroke-opacity="0.835" stroke-width="1" stroke-dasharray="3 3" stroke-dashoffset="3" fill="none"/>
<path d="M51 355.5H777" stroke="#484848" stroke-opacity="0.835" stroke-width="1" stroke-dasharray="3 3" stroke-dashoffset="5" fill="none"/>
<path d="M51 380.5H777" stroke="#484848" stroke-opacity="0.835" stroke-width="1" stroke-dasharray="3 3" stroke-dashoffset="3" fill="none"/>
<path d="M51 405.5H777" stroke="#484848" stroke-opacity="0.835" stroke-width="1" stroke-dasharray="3 3" stroke-dashoffset="1" fill="none"/>
<path d="M51 430.5H777" stroke="#484848" stroke-opacity="0.835" stroke-width="1" stroke-dasharray="3 3" stroke-dashoffset="5" fill="none"/>
<path d="M51 455.5H777" stroke="#484848" stroke-opacity="0.835" stroke-width="1" stroke-dasharray="3 3" stroke-dashoffset="3" fill="none"/>
<path d="M51 480.5H777" stroke="#484848" stroke-opacity="0.835" stroke-width="1" stroke-dasharray="3 3" stroke-dashoffset="1" fill="none"/>
<path d="M51 505.5H777" stroke="#484848" stroke-opacity="0.835" stroke-width="1" stroke-dasharray="3 3" stroke-dashoffset="5" fill="none"/>
<path d="M51 530.5H777" stroke="#484848" stroke-opacity="0.835" stroke-width="1" stroke-dasharray="3 3" stroke-dashoffset="3" fill="none"/>
<path d="M51 555.5H777" stroke="#484848" stroke-opacity="0.835" stroke-width="1" stroke-dasharray="3 3" stroke-dashoffset="1" fill="none"/>
<path d="M51 605.5H777" stroke="#484848" stroke-opacity="0.835" stroke-width="1" stroke-dasharray="3 3" stroke-dashoffset="5" fill="none"/>
<path d="M51 630.5H777" stroke="#484848" stroke-opacity="0.835" stroke-width="1" stroke-dasharray="3 3" stroke-dashoffset="3" fill="none"/>
<path d="M51 655.5H777" stroke="#484848" stroke-opacity="0.835" stroke-width="1" stroke-dasharray="3 3" stroke-dashoffset="1" fill="none"/>
<path d="M111.5 31V680" stroke="#484848" stroke-opacity="0.835" stroke-width="1" stroke-dasharray="3 3" stroke-dashoffset="2" fill="none"/>
<path d="M171.5 31V680" stroke="#484848" stroke-opacity="0.835" stroke-width="1" stroke-dasharray="3 3" stroke-dashoffset="5" fill="none"/>
<path d="M233.5 31V680" stroke="#484848" stroke-opacity="0.835" stroke-width="1" stroke-dasharray="3 3" stroke-dashoffset="2" fill="none"/>
<path d="M295.5 31V680" stroke="#484848" stroke-opacity="0.835" stroke-width="1" stroke-dasharray="3 3" stroke-dashoffset="5" fill="none"/>
<path d="M351.5 31V680" stroke="#484848" stroke-opacity="0.835" stroke-width="1" stroke-dasharray="3 3" stroke-dashoffset="2" fill="none"/>
<path d="M413.5 31V680" stroke="#484848" stroke-opacity="0.835" stroke-width="1" stroke-dasharray="3 3" stroke-dashoffset="5" fill="none"/>
<path d="M473.5 31V680" stroke="#484848" stroke-opacity="0.835" stroke-width="1" stroke-dasharray="3 3" stroke-dashoffset="2" fill="none"/>
<path d="M535.5 31V680" stroke="#484848" stroke-opacity="0.835" stroke-width="1" stroke-dasharray="3 3" stroke-dashoffset="5" fill="none"/>
<path d="M595.5 31V680" stroke="#484848" stroke-opacity="0.835" stroke-width="1" stroke-dasharray="3 3" stroke-dashoffset="2" fill="none"/>
<path d="M657.5 31V680" stroke="#484848" stroke-opacity="0.835" stroke-width="1" stroke-dasharray="3 3" stroke-dashoffset="5" fill="none"/>
<path d="M719.5 31V680" stroke="#484848" stroke-opacity="0.835" stroke-width="1" stroke-dasharray="3 3" stroke-dashoffset="2" fill="none"/>
<rect x="51" y="287" width="45" height="43" fill="#fff"/>
<g shape-rendering="geometricPrecision">
<circle cx="74" cy="309.7" r="18.1" fill="none" stroke="#a398e2" stroke-width="1.9" stroke-dasharray="0.9 0.55"/>
<circle cx="74" cy="309.85" r="16.1" fill="#6a56c0"/>
<path d="M57.7 305.2 C62 308.6 66 312.2 69.4 316.9 L73.6 315.6 C77 314.6 80 313.3 82.2 311.9 C85 309 87.6 306 89.7 302.9 L88.5 298.5 L59.5 298.5 Z" fill="#fff"/>
<path d="M69.6 316.4 L80.5 312.6 L74 314.9 Z" fill="#fff"/>
<path d="M61.2 300.5 A16.1 16.1 0 0 1 86.8 299.8 C84 304 80.5 309.3 76.6 312 Q74 313.7 71.6 311.6 C68.2 308.8 64.2 303.6 61.2 300.5 Z" fill="#2a0a9c"/>
<text x="67" y="304.6" textLength="13.7" lengthAdjust="spacingAndGlyphs" style="font-family:'DejaVu Sans','Liberation Sans',sans-serif;font-size:6px;font-weight:bold" fill="#fff">NOAA</text>
</g>
<path d="M50.5 30.5H777.5V680.5H50.5Z M50 330.5H778 M50 580.5H778" stroke="#000" stroke-width="1" fill="none"/>
<g shape-rendering="geometricPrecision">
<text x="242.69" y="24.7" style="font-family:'DejaVu Sans','Liberation Sans',sans-serif;font-size:17.3px" textLength="339.89" lengthAdjust="spacingAndGlyphs">KDPA - Oct 2013 Through Sep 2014</text>
<text transform="translate(27 266.7) rotate(-90)" style="font-family:'DejaVu Sans','Liberation Sans',sans-serif;font-size:16px" textLength="170.28" lengthAdjust="spacingAndGlyphs">Temperature (Deg F)</text>
<text transform="translate(27 543.04) rotate(-90)" style="font-family:'DejaVu Sans','Liberation Sans',sans-serif;font-size:16px" textLength="176.37" lengthAdjust="spacingAndGlyphs">Precipitation (Inches)</text>
<text transform="translate(27 694.67) rotate(-90)" style="font-family:'DejaVu Sans','Liberation Sans',sans-serif;font-size:16px" textLength="120.84" lengthAdjust="spacingAndGlyphs">Snow (inches)</text>
<text x="43" y="55.8" text-anchor="end" style="font-family:'DejaVu Sans','Liberation Sans',sans-serif;font-size:11.5px">110</text>
<text x="782.6" y="55.8" style="font-family:'DejaVu Sans','Liberation Sans',sans-serif;font-size:11.5px">110</text>
<text x="43" y="95.8" text-anchor="end" style="font-family:'DejaVu Sans','Liberation Sans',sans-serif;font-size:11.5px">90</text>
<text x="782.6" y="95.8" style="font-family:'DejaVu Sans','Liberation Sans',sans-serif;font-size:11.5px">90</text>
<text x="43" y="135.8" text-anchor="end" style="font-family:'DejaVu Sans','Liberation Sans',sans-serif;font-size:11.5px">70</text>
<text x="782.6" y="135.8" style="font-family:'DejaVu Sans','Liberation Sans',sans-serif;font-size:11.5px">70</text>
<text x="43" y="175.8" text-anchor="end" style="font-family:'DejaVu Sans','Liberation Sans',sans-serif;font-size:11.5px">50</text>
<text x="782.6" y="175.8" style="font-family:'DejaVu Sans','Liberation Sans',sans-serif;font-size:11.5px">50</text>
<text x="43" y="215.8" text-anchor="end" style="font-family:'DejaVu Sans','Liberation Sans',sans-serif;font-size:11.5px">30</text>
<text x="782.6" y="215.8" style="font-family:'DejaVu Sans','Liberation Sans',sans-serif;font-size:11.5px">30</text>
<text x="43" y="255.8" text-anchor="end" style="font-family:'DejaVu Sans','Liberation Sans',sans-serif;font-size:11.5px">10</text>
<text x="782.6" y="255.8" style="font-family:'DejaVu Sans','Liberation Sans',sans-serif;font-size:11.5px">10</text>
<text x="43" y="295.8" text-anchor="end" style="font-family:'DejaVu Sans','Liberation Sans',sans-serif;font-size:11.5px">-10</text>
<text x="782.6" y="295.8" style="font-family:'DejaVu Sans','Liberation Sans',sans-serif;font-size:11.5px">-10</text>
<text x="43" y="335.8" text-anchor="end" style="font-family:'DejaVu Sans','Liberation Sans',sans-serif;font-size:11.5px">-30</text>
<text x="782.6" y="335.8" style="font-family:'DejaVu Sans','Liberation Sans',sans-serif;font-size:11.5px">-30</text>
<text x="43" y="360.8" text-anchor="end" style="font-family:'DejaVu Sans','Liberation Sans',sans-serif;font-size:11.5px">36</text>
<text x="782.6" y="360.8" style="font-family:'DejaVu Sans','Liberation Sans',sans-serif;font-size:11.5px">36</text>
<text x="43" y="385.8" text-anchor="end" style="font-family:'DejaVu Sans','Liberation Sans',sans-serif;font-size:11.5px">32</text>
<text x="782.6" y="385.8" style="font-family:'DejaVu Sans','Liberation Sans',sans-serif;font-size:11.5px">32</text>
<text x="43" y="410.8" text-anchor="end" style="font-family:'DejaVu Sans','Liberation Sans',sans-serif;font-size:11.5px">28</text>
<text x="782.6" y="410.8" style="font-family:'DejaVu Sans','Liberation Sans',sans-serif;font-size:11.5px">28</text>
<text x="43" y="435.8" text-anchor="end" style="font-family:'DejaVu Sans','Liberation Sans',sans-serif;font-size:11.5px">24</text>
<text x="782.6" y="435.8" style="font-family:'DejaVu Sans','Liberation Sans',sans-serif;font-size:11.5px">24</text>
<text x="43" y="460.8" text-anchor="end" style="font-family:'DejaVu Sans','Liberation Sans',sans-serif;font-size:11.5px">20</text>
<text x="782.6" y="460.8" style="font-family:'DejaVu Sans','Liberation Sans',sans-serif;font-size:11.5px">20</text>
<text x="43" y="485.8" text-anchor="end" style="font-family:'DejaVu Sans','Liberation Sans',sans-serif;font-size:11.5px">16</text>
<text x="782.6" y="485.8" style="font-family:'DejaVu Sans','Liberation Sans',sans-serif;font-size:11.5px">16</text>
<text x="43" y="510.8" text-anchor="end" style="font-family:'DejaVu Sans','Liberation Sans',sans-serif;font-size:11.5px">12</text>
<text x="782.6" y="510.8" style="font-family:'DejaVu Sans','Liberation Sans',sans-serif;font-size:11.5px">12</text>
<text x="43" y="535.8" text-anchor="end" style="font-family:'DejaVu Sans','Liberation Sans',sans-serif;font-size:11.5px">8</text>
<text x="782.6" y="535.8" style="font-family:'DejaVu Sans','Liberation Sans',sans-serif;font-size:11.5px">8</text>
<text x="43" y="560.8" text-anchor="end" style="font-family:'DejaVu Sans','Liberation Sans',sans-serif;font-size:11.5px">4</text>
<text x="782.6" y="560.8" style="font-family:'DejaVu Sans','Liberation Sans',sans-serif;font-size:11.5px">4</text>
<text x="43" y="610.8" text-anchor="end" style="font-family:'DejaVu Sans','Liberation Sans',sans-serif;font-size:11.5px">45</text>
<text x="782.6" y="610.8" style="font-family:'DejaVu Sans','Liberation Sans',sans-serif;font-size:11.5px">45</text>
<text x="43" y="635.8" text-anchor="end" style="font-family:'DejaVu Sans','Liberation Sans',sans-serif;font-size:11.5px">30</text>
<text x="782.6" y="635.8" style="font-family:'DejaVu Sans','Liberation Sans',sans-serif;font-size:11.5px">30</text>
<text x="43" y="660.8" text-anchor="end" style="font-family:'DejaVu Sans','Liberation Sans',sans-serif;font-size:11.5px">15</text>
<text x="782.6" y="660.8" style="font-family:'DejaVu Sans','Liberation Sans',sans-serif;font-size:11.5px">15</text>
<text x="49.17" y="692.7" style="font-family:'DejaVu Sans','Liberation Sans',sans-serif;font-size:12.5px" textLength="24.41" lengthAdjust="spacingAndGlyphs">Oct</text>
<text x="111.07" y="692.7" style="font-family:'DejaVu Sans','Liberation Sans',sans-serif;font-size:12.5px" textLength="27.48" lengthAdjust="spacingAndGlyphs">Nov</text>
<text x="171.26" y="692.7" style="font-family:'DejaVu Sans','Liberation Sans',sans-serif;font-size:12.5px" textLength="27.5" lengthAdjust="spacingAndGlyphs">Dec</text>
<text x="235.37" y="692.7" style="font-family:'DejaVu Sans','Liberation Sans',sans-serif;font-size:12.5px" textLength="22.53" lengthAdjust="spacingAndGlyphs">Jan</text>
<text x="294.75" y="692.7" style="font-family:'DejaVu Sans','Liberation Sans',sans-serif;font-size:12.5px" textLength="25.41" lengthAdjust="spacingAndGlyphs">Feb</text>
<text x="351.31" y="692.7" style="font-family:'DejaVu Sans','Liberation Sans',sans-serif;font-size:12.5px" textLength="25.65" lengthAdjust="spacingAndGlyphs">Mar</text>
<text x="413.5" y="692.7" style="font-family:'DejaVu Sans','Liberation Sans',sans-serif;font-size:12.5px" textLength="23.0" lengthAdjust="spacingAndGlyphs">Apr</text>
<text x="472.8" y="692.7" style="font-family:'DejaVu Sans','Liberation Sans',sans-serif;font-size:12.5px" textLength="28.32" lengthAdjust="spacingAndGlyphs">May</text>
<text x="536.75" y="692.7" style="font-family:'DejaVu Sans','Liberation Sans',sans-serif;font-size:12.5px" textLength="22.46" lengthAdjust="spacingAndGlyphs">Jun</text>
<text x="596.53" y="692.7" style="font-family:'DejaVu Sans','Liberation Sans',sans-serif;font-size:12.5px" textLength="18.52" lengthAdjust="spacingAndGlyphs">Jul</text>
<text x="657.7" y="692.7" style="font-family:'DejaVu Sans','Liberation Sans',sans-serif;font-size:12.5px" textLength="27.07" lengthAdjust="spacingAndGlyphs">Aug</text>
<text x="718.19" y="692.7" style="font-family:'DejaVu Sans','Liberation Sans',sans-serif;font-size:12.5px" textLength="28.49" lengthAdjust="spacingAndGlyphs">Sep</text>
<rect x="50" y="705" width="41" height="6" fill="#ccccff" shape-rendering="crispEdges"/>
<text x="92.42" y="710" style="font-family:'DejaVu Sans','Liberation Sans',sans-serif;font-size:12px" textLength="71.8" lengthAdjust="spacingAndGlyphs">Record Min</text>
<rect x="200" y="705" width="41" height="6" fill="#ffcccc" shape-rendering="crispEdges"/>
<text x="242.41" y="710" style="font-family:'DejaVu Sans','Liberation Sans',sans-serif;font-size:12px" textLength="76.09" lengthAdjust="spacingAndGlyphs">Record Max</text>
<rect x="350" y="705" width="41" height="6" fill="#ccffcc" shape-rendering="crispEdges"/>
<text x="392.38" y="710" style="font-family:'DejaVu Sans','Liberation Sans',sans-serif;font-size:12px" textLength="48.61" lengthAdjust="spacingAndGlyphs">Normal</text>
<rect x="500" y="705" width="41" height="6" fill="#b0ad50" shape-rendering="crispEdges"/>
<text x="542.4" y="710" style="font-family:'DejaVu Sans','Liberation Sans',sans-serif;font-size:12px" textLength="91.99" lengthAdjust="spacingAndGlyphs">Below Normal</text>
<rect x="650" y="705" width="41" height="6" fill="#006e00" shape-rendering="crispEdges"/>
<text x="693.0" y="710" style="font-family:'DejaVu Sans','Liberation Sans',sans-serif;font-size:12px" textLength="92.67" lengthAdjust="spacingAndGlyphs">Above Normal</text>
</g>
</svg>
</body></html>
